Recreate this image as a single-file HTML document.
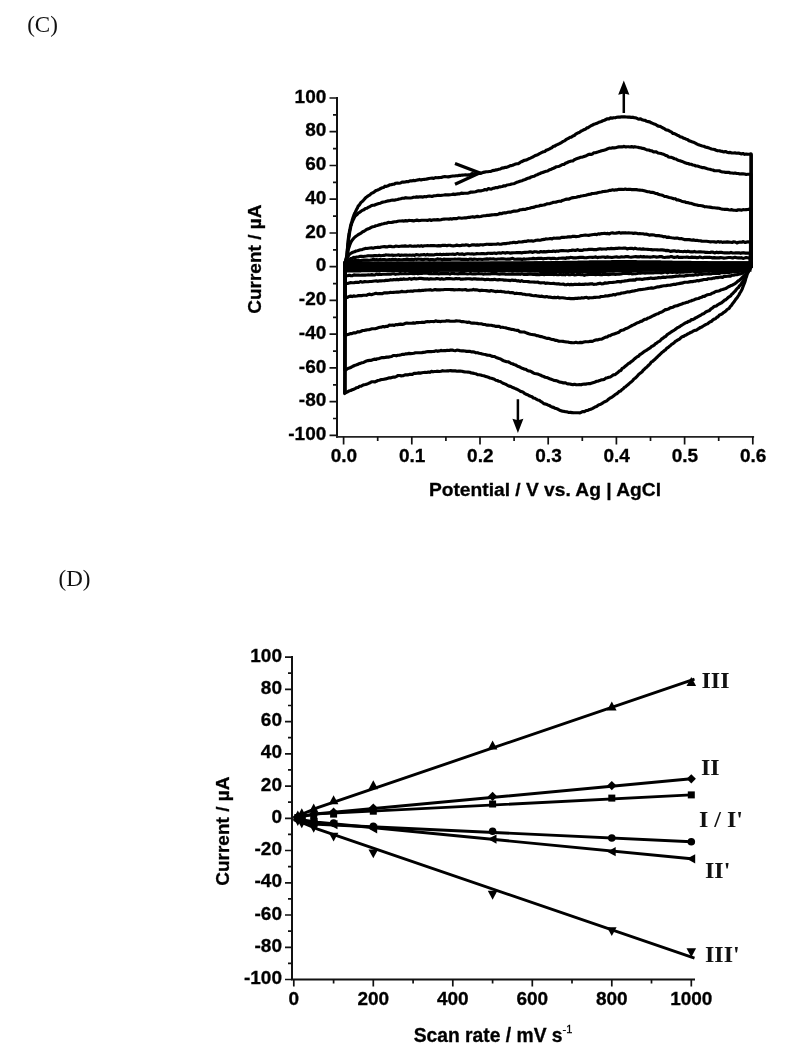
<!DOCTYPE html>
<html lang="en"><head><meta charset="utf-8"><title>Figure C, D</title>
<style>html,body{margin:0;padding:0;background:#fff}svg{display:block}</style></head>
<body>
<svg width="798" height="1061" viewBox="0 0 798 1061">
<rect width="100%" height="100%" fill="#fff"/>
<g font-family="'Liberation Serif', 'Times New Roman', serif" font-size="23" fill="#111">
<text x="27.2" y="32.3">(C)</text>
<text x="58.5" y="586.2">(D)</text>
</g>
<g stroke="#111" stroke-width="2" fill="none" stroke-linecap="butt">
<path d="M337.0 97.0 V437.7"/><path d="M336.0 436.8 H754.1" stroke="#222" stroke-width="1.8"/>
<path d="M329.5 435.4 H337.0 M333.0 418.5 H337.0 M329.5 401.7 H337.0 M333.0 384.8 H337.0 M329.5 367.9 H337.0 M333.0 351.1 H337.0 M329.5 334.2 H337.0 M333.0 317.3 H337.0 M329.5 300.4 H337.0 M333.0 283.6 H337.0 M329.5 266.7 H337.0 M333.0 249.8 H337.0 M329.5 233.0 H337.0 M333.0 216.1 H337.0 M329.5 199.2 H337.0 M333.0 182.3 H337.0 M329.5 165.5 H337.0 M333.0 148.6 H337.0 M329.5 131.7 H337.0 M333.0 114.9 H337.0 M329.5 98.0 H337.0 M343.6 436.8 V444.6 M377.7 436.8 V441.0 M411.8 436.8 V444.6 M445.9 436.8 V441.0 M480.0 436.8 V444.6 M514.1 436.8 V441.0 M548.2 436.8 V444.6 M582.3 436.8 V441.0 M616.4 436.8 V444.6 M650.5 436.8 V441.0 M684.6 436.8 V444.6 M718.7 436.8 V441.0 M752.8 436.8 V444.6 " stroke-width="1.7"/>
</g>
<g font-family="'Liberation Sans', Arial, sans-serif" font-weight="bold" font-size="19" fill="#000" stroke="#000" stroke-width="0.3">
<text x="326.3" y="440.0" text-anchor="end">-100</text>
<text x="326.3" y="406.3" text-anchor="end">-80</text>
<text x="326.3" y="372.5" text-anchor="end">-60</text>
<text x="326.3" y="338.8" text-anchor="end">-40</text>
<text x="326.3" y="305.0" text-anchor="end">-20</text>
<text x="326.3" y="271.3" text-anchor="end">0</text>
<text x="326.3" y="237.6" text-anchor="end">20</text>
<text x="326.3" y="203.8" text-anchor="end">40</text>
<text x="326.3" y="170.1" text-anchor="end">60</text>
<text x="326.3" y="136.3" text-anchor="end">80</text>
<text x="326.3" y="102.6" text-anchor="end">100</text>
<text x="343.9" y="462" text-anchor="middle">0.0</text>
<text x="412.1" y="462" text-anchor="middle">0.1</text>
<text x="480.3" y="462" text-anchor="middle">0.2</text>
<text x="548.5" y="462" text-anchor="middle">0.3</text>
<text x="616.7" y="462" text-anchor="middle">0.4</text>
<text x="684.9" y="462" text-anchor="middle">0.5</text>
<text x="753.1" y="462" text-anchor="middle">0.6</text>
<text x="545" y="495.6" text-anchor="middle" font-size="19.2">Potential / V vs. Ag | AgCl</text>
<text transform="translate(261,259.2) rotate(-90)" text-anchor="middle">Current / µA</text>
</g>
<g stroke="#000" stroke-width="3.15" fill="none" stroke-linejoin="round">
<path d="M344.6 393.5 L345.2 262.4 L345.7 259.9 L346.1 259.0 L346.4 257.2 L346.7 255.7 L346.9 254.2 L347.1 252.2 L347.2 251.0 L347.4 249.3 L347.5 248.6 L347.6 246.3 L347.8 244.6 L347.9 243.0 L348.1 241.3 L348.2 239.6 L348.4 238.2 L348.6 236.8 L348.8 235.0 L349.1 233.7 L349.4 231.9 L349.7 230.4 L350.0 229.1 L350.3 227.3 L350.7 225.5 L351.1 224.0 L351.5 222.7 L352.0 221.4 L352.4 219.4 L352.9 217.9 L353.4 216.7 L354.0 214.8 L354.6 213.4 L355.3 212.2 L356.0 210.6 L356.7 209.1 L357.5 207.9 L358.3 205.8 L359.2 205.3 L360.2 203.6 L361.2 202.2 L362.3 201.4 L363.4 200.3 L364.6 198.9 L365.8 197.6 L367.0 196.8 L368.2 195.8 L369.4 195.2 L370.7 194.1 L372.0 193.1 L373.4 192.5 L374.8 191.4 L376.3 190.4 L377.7 190.0 L379.1 189.3 L380.6 188.5 L382.0 187.8 L383.5 187.4 L385.0 186.2 L386.5 186.4 L388.1 185.8 L389.6 184.9 L391.2 184.8 L392.7 184.2 L394.2 184.2 L395.8 183.2 L397.4 183.1 L398.9 183.2 L400.5 183.0 L402.1 182.0 L403.7 182.1 L405.3 182.0 L406.8 181.5 L408.4 181.7 L410.0 180.9 L411.6 180.9 L413.2 180.4 L414.7 180.7 L416.3 180.2 L417.9 179.9 L419.5 179.4 L421.1 179.9 L422.7 179.5 L424.3 179.4 L425.8 179.3 L427.4 178.9 L429.0 178.5 L430.6 178.3 L432.2 178.1 L433.8 178.4 L435.4 177.6 L437.0 177.7 L438.6 177.6 L440.2 177.5 L441.8 177.4 L443.3 176.8 L444.9 176.6 L446.5 176.8 L448.1 176.9 L449.7 176.6 L451.3 176.3 L452.9 176.0 L454.5 176.0 L456.1 175.7 L457.7 175.8 L459.3 175.3 L460.8 175.3 L462.4 175.1 L464.0 175.0 L465.6 174.8 L467.2 175.1 L468.8 174.7 L470.4 174.6 L472.0 173.6 L473.6 173.8 L475.2 173.6 L476.8 173.7 L478.4 172.9 L479.9 173.4 L481.5 173.1 L483.1 172.4 L484.7 172.1 L486.2 171.8 L487.8 171.7 L489.4 171.5 L490.9 171.4 L492.5 170.6 L494.0 170.4 L495.6 169.9 L497.1 169.9 L498.7 169.3 L500.3 169.0 L501.8 168.1 L503.4 167.9 L504.9 167.4 L506.5 167.4 L508.0 166.8 L509.5 166.1 L511.0 165.6 L512.6 165.3 L514.1 164.6 L515.6 164.0 L517.1 163.7 L518.6 163.6 L520.1 162.4 L521.5 161.7 L523.0 161.0 L524.5 160.3 L526.0 160.1 L527.5 159.5 L528.9 158.7 L530.4 158.1 L531.9 157.4 L533.3 156.8 L534.8 155.8 L536.2 155.3 L537.7 154.8 L539.1 153.9 L540.5 153.2 L542.0 152.4 L543.4 151.8 L544.8 151.4 L546.2 150.3 L547.7 149.7 L549.1 149.1 L550.5 148.3 L551.9 147.8 L553.3 146.2 L554.7 146.1 L556.1 145.1 L557.6 144.5 L559.0 143.9 L560.4 143.1 L561.8 142.3 L563.2 141.4 L564.5 140.9 L565.9 139.7 L567.3 138.9 L568.7 138.3 L570.1 137.3 L571.5 137.1 L572.9 136.0 L574.3 135.5 L575.7 134.2 L577.1 133.4 L578.5 132.7 L579.9 132.1 L581.3 131.0 L582.7 130.4 L584.1 129.6 L585.5 129.2 L586.9 127.9 L588.3 127.6 L589.8 126.5 L591.2 125.7 L592.6 125.0 L594.1 124.2 L595.5 123.8 L597.0 123.3 L598.4 122.5 L599.9 121.9 L601.4 121.5 L602.9 120.7 L604.4 120.2 L605.9 119.5 L607.4 118.8 L609.0 118.8 L610.5 117.9 L612.1 118.1 L613.7 117.7 L615.2 117.8 L616.8 117.3 L618.4 117.0 L620.0 117.1 L621.6 116.8 L623.2 116.9 L624.8 116.9 L626.4 117.0 L628.0 117.1 L629.6 117.1 L631.2 117.4 L632.8 117.2 L634.4 117.8 L635.9 117.9 L637.5 118.7 L639.1 119.1 L640.6 118.8 L642.2 119.8 L643.7 120.2 L645.2 120.4 L646.7 121.3 L648.2 121.6 L649.7 121.9 L651.2 122.8 L652.7 123.4 L654.2 124.1 L655.7 124.5 L657.1 125.5 L658.6 126.2 L660.1 126.4 L661.5 127.2 L663.0 128.0 L664.4 128.6 L665.8 129.8 L667.3 130.1 L668.7 130.6 L670.1 131.4 L671.6 132.2 L673.0 133.5 L674.4 133.6 L675.9 134.4 L677.3 135.2 L678.8 135.7 L680.2 136.9 L681.7 137.0 L683.1 137.9 L684.6 138.4 L686.1 139.2 L687.5 139.5 L689.0 140.8 L690.4 141.1 L691.9 141.8 L693.4 142.2 L694.8 142.9 L696.3 143.7 L697.8 144.4 L699.3 144.9 L700.8 145.6 L702.3 146.0 L703.8 146.3 L705.3 147.0 L706.9 147.4 L708.4 147.8 L709.9 148.4 L711.5 149.0 L713.0 149.2 L714.6 149.5 L716.1 150.2 L717.7 150.8 L719.2 150.7 L720.8 151.1 L722.4 151.4 L723.9 151.9 L725.5 151.5 L727.1 152.2 L728.7 152.6 L730.2 152.4 L731.8 153.0 L733.4 153.0 L735.0 152.9 L736.6 153.2 L738.2 153.0 L739.8 153.4 L741.4 154.0 L743.0 153.5 L744.6 154.3 L746.2 154.0 L747.8 154.3 L749.4 154.2 L751.0 153.8 L751.3 154.2 L751.3 267.0 L750.4 268.1 L749.6 269.4 L748.8 271.2 L748.1 272.4 L747.4 273.6 L746.9 275.3 L746.3 277.2 L745.8 278.4 L745.4 280.3 L744.9 281.9 L744.4 283.2 L743.9 284.4 L743.3 285.9 L742.7 287.6 L742.1 289.3 L741.4 290.5 L740.6 292.0 L739.8 293.2 L739.0 294.8 L738.2 296.0 L737.3 297.4 L736.4 298.5 L735.4 299.8 L734.5 301.3 L733.5 302.5 L732.5 303.7 L731.5 305.3 L730.4 306.3 L729.4 308.1 L728.3 308.8 L727.1 309.5 L725.9 310.9 L724.7 311.8 L723.4 312.6 L722.1 313.9 L720.8 314.5 L719.5 314.9 L718.2 316.7 L716.8 317.3 L715.5 318.7 L714.2 319.1 L712.9 319.9 L711.5 321.4 L710.2 321.7 L708.8 322.8 L707.4 323.9 L706.1 324.4 L704.7 325.2 L703.3 326.0 L701.9 326.9 L700.5 327.4 L699.1 328.4 L697.7 329.2 L696.2 330.3 L694.8 330.4 L693.3 331.0 L691.9 332.0 L690.5 332.5 L689.0 333.3 L687.6 334.0 L686.2 335.0 L684.8 335.4 L683.5 336.4 L682.1 336.7 L680.7 337.9 L679.4 339.3 L678.1 339.7 L676.8 340.6 L675.4 341.4 L674.1 342.8 L672.9 343.6 L671.6 344.3 L670.3 345.7 L669.1 346.6 L667.8 347.7 L666.6 348.4 L665.4 350.0 L664.2 350.7 L663.0 351.7 L661.8 352.6 L660.6 353.8 L659.4 355.1 L658.2 356.0 L657.1 357.3 L655.9 358.3 L654.7 359.6 L653.5 360.5 L652.4 361.5 L651.2 362.2 L650.1 363.8 L648.9 365.0 L647.8 366.0 L646.7 367.2 L645.5 368.1 L644.4 369.2 L643.2 370.2 L642.1 371.8 L640.9 372.7 L639.7 373.6 L638.6 374.5 L637.4 375.9 L636.2 377.3 L635.1 378.2 L633.9 379.0 L632.7 380.6 L631.5 381.7 L630.3 382.6 L629.1 383.6 L627.9 384.8 L626.7 385.7 L625.5 386.8 L624.3 387.4 L623.0 389.0 L621.8 389.7 L620.5 391.1 L619.3 391.2 L618.0 392.7 L616.7 393.8 L615.4 394.4 L614.1 395.5 L612.8 396.5 L611.5 397.4 L610.2 398.0 L608.8 399.0 L607.5 400.2 L606.2 401.1 L604.8 401.7 L603.4 402.5 L602.1 403.4 L600.7 404.3 L599.3 404.7 L597.9 405.4 L596.5 406.5 L595.0 407.0 L593.6 407.8 L592.2 408.6 L590.7 409.3 L589.2 409.6 L587.7 410.5 L586.2 410.5 L584.7 411.6 L583.1 411.6 L581.6 412.1 L580.0 412.9 L578.4 412.8 L576.8 412.7 L575.3 412.7 L573.6 412.8 L572.0 412.6 L570.4 412.4 L568.8 412.5 L567.2 411.9 L565.7 411.8 L564.2 411.4 L562.6 411.3 L561.1 410.7 L559.6 410.2 L558.1 409.3 L556.6 408.6 L555.1 408.3 L553.6 407.4 L552.2 407.1 L550.7 406.4 L549.2 405.4 L547.8 404.9 L546.3 404.2 L544.9 403.9 L543.5 403.4 L542.0 402.1 L540.6 401.4 L539.2 400.2 L537.7 400.0 L536.3 399.2 L534.9 398.3 L533.4 398.0 L532.0 396.8 L530.6 396.3 L529.1 395.7 L527.7 394.7 L526.3 394.4 L524.9 393.7 L523.4 392.4 L522.0 391.7 L520.6 391.4 L519.2 390.5 L517.7 389.6 L516.3 389.0 L514.9 388.4 L513.4 387.7 L512.0 387.2 L510.5 386.4 L509.1 386.1 L507.6 385.3 L506.2 384.5 L504.7 383.9 L503.2 383.3 L501.8 382.5 L500.3 381.5 L498.8 381.3 L497.3 380.5 L495.8 380.2 L494.4 379.3 L492.9 378.8 L491.4 378.3 L489.9 378.0 L488.3 377.2 L486.8 376.7 L485.3 376.4 L483.8 375.8 L482.2 375.5 L480.7 375.0 L479.1 374.7 L477.5 374.6 L476.0 373.8 L474.4 373.5 L472.8 373.1 L471.3 373.0 L469.7 372.3 L468.1 372.1 L466.5 372.0 L465.0 371.9 L463.4 371.6 L461.8 371.2 L460.2 371.0 L458.6 371.1 L457.0 371.2 L455.4 370.9 L453.8 370.8 L452.2 370.9 L450.6 370.6 L449.0 370.8 L447.4 370.8 L445.8 371.0 L444.2 371.0 L442.6 370.7 L441.0 371.3 L439.4 371.5 L437.8 371.2 L436.2 371.4 L434.6 371.5 L433.0 371.8 L431.4 371.4 L429.8 372.3 L428.3 372.0 L426.7 372.5 L425.1 372.4 L423.5 372.5 L421.9 372.7 L420.3 373.1 L418.7 372.9 L417.1 373.2 L415.5 373.4 L414.0 373.4 L412.4 374.3 L410.8 374.3 L409.2 374.4 L407.6 374.9 L406.0 374.7 L404.5 375.1 L402.9 375.8 L401.3 375.9 L399.7 375.5 L398.1 375.5 L396.6 376.3 L395.0 377.1 L393.4 377.0 L391.9 377.4 L390.3 377.9 L388.7 377.9 L387.1 378.4 L385.6 378.9 L384.0 379.2 L382.5 379.5 L380.9 379.6 L379.4 380.3 L377.8 380.5 L376.3 381.3 L374.7 382.0 L373.2 381.7 L371.6 381.8 L370.1 382.7 L368.6 383.4 L367.1 384.0 L365.6 384.5 L364.1 384.7 L362.6 385.2 L361.1 386.2 L359.6 386.3 L358.1 387.4 L356.6 387.7 L355.1 388.6 L353.7 389.2 L352.2 389.8 L350.7 390.5 L349.3 390.8 L347.8 391.7 L346.4 392.3 L344.9 393.1 L344.6 393.5Z"/>
<path d="M344.7 369.8 L345.2 262.9 L345.7 261.3 L346.1 259.8 L346.4 258.3 L346.7 257.0 L346.9 255.0 L347.1 253.9 L347.2 252.1 L347.4 250.4 L347.5 248.6 L347.7 247.3 L347.8 245.8 L348.0 243.7 L348.2 242.7 L348.4 241.2 L348.6 239.4 L348.8 237.8 L349.1 236.6 L349.3 234.8 L349.6 232.7 L349.8 231.3 L350.1 229.7 L350.5 228.2 L350.8 226.1 L351.2 225.3 L351.7 223.4 L352.3 222.0 L352.9 220.4 L353.6 219.1 L354.3 217.5 L355.1 216.2 L356.1 215.3 L357.1 214.5 L358.3 213.0 L359.6 212.4 L361.0 211.2 L362.5 210.2 L363.9 209.8 L365.4 208.5 L366.9 208.2 L368.3 207.2 L369.7 206.8 L371.2 205.8 L372.7 205.3 L374.2 205.2 L375.8 204.5 L377.3 204.0 L378.9 203.5 L380.4 203.2 L381.9 202.4 L383.5 202.0 L385.0 201.8 L386.6 201.3 L388.2 200.9 L389.7 200.7 L391.3 200.3 L392.8 200.0 L394.4 200.2 L396.0 199.7 L397.6 199.5 L399.2 199.0 L400.7 198.7 L402.3 198.2 L403.9 198.3 L405.5 197.7 L407.1 197.9 L408.7 198.0 L410.3 198.0 L411.9 197.7 L413.5 197.2 L415.1 197.3 L416.7 196.9 L418.2 197.1 L419.8 196.8 L421.4 196.9 L423.0 197.1 L424.6 196.6 L426.2 196.8 L427.8 196.3 L429.4 196.0 L431.0 196.3 L432.6 196.3 L434.2 195.7 L435.8 195.7 L437.4 195.3 L439.0 195.4 L440.6 195.5 L442.2 195.2 L443.8 195.0 L445.4 194.7 L447.0 194.9 L448.6 194.9 L450.2 194.7 L451.8 194.5 L453.4 194.1 L455.0 194.6 L456.5 194.1 L458.1 193.9 L459.7 193.9 L461.3 193.1 L462.9 193.4 L464.5 193.2 L466.1 193.2 L467.7 193.2 L469.3 192.8 L470.8 192.0 L472.4 192.1 L474.0 192.0 L475.6 191.7 L477.1 191.1 L478.7 190.7 L480.3 190.9 L481.9 190.6 L483.4 190.2 L485.0 189.5 L486.6 190.0 L488.2 188.6 L489.7 188.9 L491.3 189.1 L492.9 188.3 L494.5 188.1 L496.0 187.5 L497.6 187.7 L499.2 186.8 L500.7 186.8 L502.3 186.5 L503.9 185.8 L505.4 185.9 L507.0 185.0 L508.5 184.8 L510.1 184.5 L511.6 184.0 L513.1 183.8 L514.6 183.4 L516.2 182.6 L517.7 182.1 L519.2 181.5 L520.7 181.0 L522.2 180.7 L523.7 179.9 L525.2 179.5 L526.7 178.8 L528.2 178.1 L529.7 177.9 L531.2 176.9 L532.7 176.5 L534.2 176.3 L535.7 175.2 L537.2 174.8 L538.7 173.9 L540.1 173.5 L541.6 172.7 L543.1 172.4 L544.6 171.7 L546.1 171.3 L547.6 171.0 L549.0 170.1 L550.5 169.6 L552.0 168.8 L553.5 168.2 L555.0 167.5 L556.5 166.7 L558.0 166.5 L559.4 166.2 L560.9 165.4 L562.4 164.5 L563.9 164.4 L565.4 163.3 L566.8 162.7 L568.3 162.0 L569.8 161.4 L571.3 161.0 L572.8 160.9 L574.3 159.8 L575.8 159.1 L577.3 158.6 L578.8 158.1 L580.3 157.3 L581.8 157.2 L583.3 156.8 L584.8 156.2 L586.3 155.7 L587.9 154.8 L589.4 154.2 L590.9 154.4 L592.4 153.9 L593.9 152.8 L595.5 152.7 L597.0 152.2 L598.5 151.8 L600.1 151.3 L601.6 150.7 L603.1 150.4 L604.7 150.0 L606.2 149.5 L607.8 148.7 L609.3 148.1 L610.9 148.2 L612.5 147.7 L614.0 147.9 L615.6 147.7 L617.2 147.3 L618.8 146.9 L620.4 146.8 L622.0 146.9 L623.6 146.4 L625.2 146.8 L626.8 146.8 L628.4 146.7 L630.0 147.0 L631.6 146.6 L633.2 147.1 L634.8 146.7 L636.3 147.0 L637.9 147.2 L639.5 147.8 L641.1 147.9 L642.6 148.4 L644.2 148.6 L645.7 149.4 L647.3 150.0 L648.8 150.0 L650.4 150.7 L651.9 150.9 L653.5 151.8 L655.0 151.8 L656.5 151.9 L658.0 153.0 L659.6 153.2 L661.1 153.5 L662.6 154.1 L664.1 154.5 L665.6 155.4 L667.1 155.7 L668.6 156.9 L670.1 157.3 L671.5 157.4 L673.0 158.0 L674.5 158.7 L676.0 159.0 L677.5 160.0 L679.0 160.5 L680.6 160.9 L682.1 161.4 L683.6 162.1 L685.1 162.8 L686.6 163.4 L688.2 163.5 L689.7 164.2 L691.2 164.3 L692.8 165.0 L694.3 165.2 L695.8 166.0 L697.4 166.0 L698.9 166.5 L700.5 167.1 L702.0 167.6 L703.6 167.6 L705.1 168.1 L706.7 168.6 L708.2 169.0 L709.8 169.2 L711.4 169.7 L712.9 170.0 L714.5 170.7 L716.1 170.8 L717.6 170.7 L719.2 170.8 L720.8 171.5 L722.4 172.0 L724.0 172.0 L725.5 172.4 L727.1 172.3 L728.7 172.3 L730.3 173.0 L731.9 173.0 L733.5 173.3 L735.1 173.0 L736.7 173.5 L738.3 173.5 L739.9 174.0 L741.5 173.8 L743.0 173.9 L744.6 174.0 L746.2 174.5 L747.8 174.3 L749.4 174.2 L751.0 174.2 L751.0 266.8 L750.1 268.6 L749.2 269.2 L748.3 270.8 L747.5 272.5 L746.7 274.0 L746.0 275.2 L745.3 276.8 L744.6 278.3 L743.8 279.7 L743.1 280.9 L742.2 282.6 L741.3 283.6 L740.4 285.2 L739.4 285.9 L738.4 287.6 L737.4 288.3 L736.3 289.5 L735.2 291.1 L734.1 292.0 L733.0 293.4 L731.8 294.2 L730.7 295.9 L729.5 296.6 L728.3 297.3 L727.0 298.6 L725.7 299.7 L724.4 300.3 L723.1 301.5 L721.8 302.7 L720.4 303.3 L719.1 304.0 L717.7 304.8 L716.3 305.9 L715.0 306.3 L713.7 306.8 L712.3 308.2 L710.9 308.9 L709.6 310.4 L708.2 310.9 L706.8 311.5 L705.5 312.2 L704.1 313.4 L702.7 313.9 L701.3 314.8 L699.9 315.6 L698.5 316.4 L697.1 317.2 L695.6 317.9 L694.2 318.9 L692.8 319.6 L691.3 319.6 L689.9 321.2 L688.4 321.4 L687.0 322.4 L685.6 322.7 L684.2 323.7 L682.9 324.5 L681.5 325.3 L680.1 326.3 L678.8 327.1 L677.4 327.7 L676.1 328.7 L674.8 329.8 L673.4 330.7 L672.1 331.4 L670.8 332.3 L669.5 333.2 L668.2 334.0 L666.9 334.9 L665.6 336.5 L664.3 337.0 L663.1 338.1 L661.8 338.9 L660.5 340.3 L659.3 341.4 L658.0 341.9 L656.7 343.1 L655.4 343.7 L654.1 345.2 L652.8 346.0 L651.5 346.5 L650.2 347.9 L648.9 348.6 L647.6 349.5 L646.3 350.4 L644.9 351.1 L643.6 352.0 L642.3 353.2 L641.0 354.0 L639.7 354.7 L638.5 356.3 L637.2 356.8 L635.9 357.7 L634.7 358.7 L633.4 360.0 L632.2 361.0 L630.9 361.9 L629.7 363.0 L628.4 363.5 L627.2 364.7 L625.9 365.7 L624.6 366.8 L623.4 367.9 L622.1 368.4 L620.9 370.6 L619.6 370.7 L618.4 372.0 L617.1 373.1 L615.8 374.1 L614.5 374.8 L613.2 374.9 L611.8 376.0 L610.3 377.0 L608.9 377.3 L607.4 377.8 L605.8 378.1 L604.3 379.4 L602.8 379.7 L601.2 379.9 L599.7 380.6 L598.2 381.1 L596.7 381.3 L595.1 382.0 L593.6 382.6 L592.0 383.1 L590.5 383.6 L588.9 383.6 L587.3 383.7 L585.7 384.1 L584.2 384.1 L582.6 384.2 L581.0 384.8 L579.4 384.6 L577.8 384.7 L576.2 384.8 L574.6 384.3 L573.0 384.6 L571.4 384.4 L569.8 384.0 L568.2 383.9 L566.6 383.4 L565.1 382.8 L563.5 382.9 L562.0 382.4 L560.4 382.3 L558.9 381.7 L557.3 381.0 L555.8 380.6 L554.3 380.5 L552.8 379.9 L551.2 379.3 L549.7 378.8 L548.2 378.1 L546.7 377.6 L545.2 377.2 L543.7 376.5 L542.2 376.1 L540.7 375.2 L539.2 374.6 L537.7 374.0 L536.2 373.7 L534.7 373.5 L533.2 372.9 L531.7 371.9 L530.2 371.1 L528.7 371.0 L527.3 370.4 L525.8 369.3 L524.3 369.2 L522.8 368.4 L521.4 368.0 L519.9 367.1 L518.4 366.6 L517.0 365.9 L515.5 364.9 L514.0 364.5 L512.5 363.8 L511.1 363.5 L509.6 362.5 L508.1 361.8 L506.6 361.7 L505.1 361.2 L503.6 360.7 L502.1 360.0 L500.6 358.9 L499.1 358.5 L497.6 358.0 L496.1 357.5 L494.6 356.5 L493.1 356.5 L491.5 356.1 L490.0 355.4 L488.5 355.2 L486.9 355.1 L485.4 354.5 L483.8 354.3 L482.3 354.0 L480.7 353.5 L479.1 353.2 L477.6 352.7 L476.0 352.8 L474.4 352.1 L472.8 351.8 L471.2 351.9 L469.6 351.3 L468.0 351.4 L466.5 351.4 L464.9 351.0 L463.3 350.9 L461.7 350.9 L460.1 350.8 L458.5 350.2 L456.9 350.1 L455.3 350.7 L453.7 350.5 L452.1 350.0 L450.5 350.1 L448.9 350.5 L447.3 350.3 L445.7 350.6 L444.1 350.6 L442.5 350.7 L440.9 350.4 L439.3 350.9 L437.7 351.3 L436.1 350.8 L434.5 351.4 L432.9 351.5 L431.3 351.6 L429.7 351.6 L428.1 351.5 L426.5 351.7 L424.9 352.2 L423.3 352.4 L421.8 352.6 L420.2 352.7 L418.6 352.8 L417.0 352.7 L415.4 352.7 L413.8 353.2 L412.2 353.5 L410.6 353.6 L409.0 353.4 L407.4 353.8 L405.9 353.8 L404.3 354.4 L402.7 354.3 L401.1 354.8 L399.5 355.1 L397.9 355.3 L396.4 355.8 L394.8 355.5 L393.2 355.5 L391.6 356.5 L390.0 356.8 L388.5 357.1 L386.9 357.1 L385.3 357.4 L383.7 357.6 L382.1 357.6 L380.6 358.1 L379.0 358.6 L377.4 358.7 L375.9 359.5 L374.3 359.1 L372.7 359.7 L371.2 360.4 L369.6 360.4 L368.0 360.6 L366.5 361.0 L365.0 361.6 L363.5 362.5 L361.9 362.8 L360.4 363.4 L359.0 363.7 L357.5 364.6 L356.0 365.1 L354.5 365.5 L353.0 366.2 L351.6 367.0 L350.1 367.8 L348.6 368.2 L347.2 369.0 L345.7 370.0 L344.7 369.8Z"/>
<path d="M344.7 335.5 L345.2 263.7 L345.5 262.7 L345.8 261.0 L346.2 259.3 L346.6 257.8 L346.9 256.1 L347.3 254.7 L347.7 252.9 L348.0 251.5 L348.4 249.4 L348.8 247.9 L349.3 246.5 L349.8 244.9 L350.3 243.7 L350.9 242.2 L351.6 240.9 L352.5 239.8 L353.5 238.5 L354.7 237.2 L356.0 236.2 L357.4 235.3 L358.7 234.4 L360.1 233.6 L361.4 232.8 L362.7 231.8 L364.1 231.2 L365.5 230.3 L366.9 229.2 L368.3 228.9 L369.8 228.2 L371.3 227.3 L372.8 226.8 L374.3 226.5 L375.8 225.8 L377.4 225.5 L378.9 224.9 L380.4 224.6 L382.0 224.0 L383.5 223.8 L385.1 223.3 L386.7 223.2 L388.3 222.3 L389.8 222.5 L391.4 222.5 L393.0 222.1 L394.6 221.8 L396.2 221.7 L397.8 221.2 L399.4 221.0 L401.0 221.0 L402.5 220.9 L404.1 221.1 L405.7 220.6 L407.3 221.0 L408.9 220.4 L410.5 220.5 L412.1 220.6 L413.7 220.9 L415.3 220.5 L416.9 220.1 L418.5 220.6 L420.1 220.5 L421.7 220.2 L423.3 220.2 L424.9 220.2 L426.5 220.3 L428.1 220.3 L429.7 219.8 L431.3 220.5 L432.9 219.9 L434.5 219.7 L436.1 219.9 L437.7 219.6 L439.3 220.0 L440.9 219.7 L442.5 219.2 L444.1 219.1 L445.7 219.0 L447.3 219.0 L448.9 219.1 L450.5 218.7 L452.1 219.1 L453.7 218.6 L455.3 218.5 L456.9 218.6 L458.5 217.9 L460.1 218.0 L461.7 218.2 L463.3 218.0 L464.9 217.8 L466.5 217.8 L468.0 217.4 L469.6 217.4 L471.2 217.0 L472.8 216.7 L474.4 217.2 L476.0 216.6 L477.6 216.4 L479.2 216.7 L480.8 216.5 L482.4 216.0 L484.0 215.8 L485.6 215.7 L487.1 215.3 L488.7 215.4 L490.3 215.1 L491.9 214.9 L493.5 214.8 L495.1 214.6 L496.7 214.6 L498.2 214.3 L499.8 213.3 L501.4 213.7 L503.0 213.0 L504.6 212.7 L506.1 212.9 L507.7 212.3 L509.3 212.1 L510.9 212.1 L512.4 211.5 L514.0 211.1 L515.6 211.1 L517.1 211.0 L518.7 210.5 L520.3 209.7 L521.8 209.6 L523.4 209.3 L525.0 209.5 L526.5 208.9 L528.1 208.5 L529.7 208.3 L531.2 207.6 L532.8 207.4 L534.4 207.1 L535.9 206.4 L537.5 206.2 L539.0 206.0 L540.6 205.3 L542.1 205.3 L543.7 205.0 L545.3 204.6 L546.8 203.9 L548.4 203.7 L549.9 203.6 L551.5 203.1 L553.0 202.4 L554.6 202.2 L556.2 202.1 L557.7 201.5 L559.3 201.2 L560.8 201.3 L562.4 200.4 L563.9 200.0 L565.5 199.4 L567.1 199.1 L568.6 199.2 L570.2 198.5 L571.7 197.9 L573.3 197.6 L574.9 197.5 L576.4 197.3 L578.0 196.6 L579.5 196.6 L581.1 196.0 L582.7 195.8 L584.2 195.5 L585.8 195.2 L587.4 194.7 L588.9 194.4 L590.5 194.2 L592.1 193.5 L593.6 193.5 L595.2 193.3 L596.8 193.1 L598.3 192.5 L599.9 192.2 L601.5 192.0 L603.1 191.5 L604.6 191.4 L606.2 191.2 L607.8 191.0 L609.4 190.4 L611.0 190.4 L612.6 189.8 L614.2 190.2 L615.7 189.8 L617.3 189.8 L618.9 189.3 L620.5 189.4 L622.1 189.4 L623.7 189.5 L625.3 189.0 L626.9 189.5 L628.5 189.3 L630.1 189.3 L631.7 189.6 L633.3 189.5 L634.9 189.6 L636.5 189.6 L638.1 190.0 L639.7 190.1 L641.3 190.3 L642.9 190.4 L644.4 190.8 L646.0 191.2 L647.6 191.7 L649.1 191.7 L650.7 192.4 L652.3 192.4 L653.8 192.6 L655.4 193.4 L656.9 193.5 L658.4 194.2 L660.0 194.8 L661.5 195.0 L663.0 195.5 L664.6 196.5 L666.1 196.5 L667.7 197.0 L669.2 197.5 L670.7 197.8 L672.3 198.2 L673.8 198.8 L675.3 198.7 L676.9 200.0 L678.4 199.9 L679.9 200.4 L681.5 201.2 L683.0 201.6 L684.5 201.7 L686.1 202.5 L687.6 202.6 L689.2 203.1 L690.7 203.3 L692.3 203.8 L693.8 204.4 L695.4 204.7 L697.0 205.0 L698.5 205.5 L700.1 205.5 L701.7 205.7 L703.3 206.1 L704.8 206.8 L706.4 206.7 L708.0 207.0 L709.6 207.1 L711.2 207.4 L712.7 207.7 L714.3 207.8 L715.9 208.0 L717.5 208.1 L719.1 208.3 L720.7 208.8 L722.3 209.1 L723.9 209.3 L725.5 209.3 L727.0 209.3 L728.6 209.8 L730.2 210.0 L731.8 209.6 L733.4 210.2 L735.0 210.2 L736.6 210.5 L738.2 209.8 L739.8 209.8 L741.4 210.2 L743.0 209.6 L744.6 209.7 L746.2 209.6 L747.8 209.5 L749.4 209.1 L750.8 209.3 L750.8 267.2 L749.9 268.4 L749.0 269.7 L748.0 270.9 L747.1 272.5 L746.1 273.6 L745.1 275.0 L744.0 275.6 L742.9 277.2 L741.8 277.9 L740.6 279.3 L739.4 280.3 L738.1 281.0 L736.8 282.2 L735.4 283.3 L734.1 284.1 L732.7 284.9 L731.3 285.4 L729.9 286.2 L728.5 286.8 L727.1 287.7 L725.6 288.6 L724.1 289.0 L722.6 289.5 L721.1 289.8 L719.6 290.7 L718.1 291.1 L716.5 291.3 L715.0 291.9 L713.5 292.8 L712.0 293.2 L710.5 294.3 L709.0 294.5 L707.5 294.8 L706.0 295.4 L704.5 296.4 L703.0 296.4 L701.5 297.3 L700.0 297.7 L698.5 298.5 L696.9 298.8 L695.4 299.1 L693.9 299.9 L692.4 300.3 L690.9 301.0 L689.4 301.3 L687.9 302.3 L686.4 302.4 L684.9 303.0 L683.4 303.3 L681.8 304.0 L680.3 304.5 L678.8 305.0 L677.3 305.7 L675.8 305.9 L674.3 306.3 L672.7 307.3 L671.2 307.6 L669.8 308.1 L668.3 309.1 L666.8 309.6 L665.4 309.5 L663.9 310.7 L662.4 311.6 L661.0 312.3 L659.5 312.7 L658.1 313.8 L656.6 314.0 L655.2 314.8 L653.7 315.5 L652.3 316.1 L650.8 317.0 L649.4 317.7 L647.9 318.1 L646.4 319.1 L645.0 319.3 L643.5 320.0 L642.1 321.1 L640.6 321.4 L639.2 322.3 L637.7 322.7 L636.3 323.4 L634.9 324.2 L633.4 324.9 L632.0 325.5 L630.5 326.3 L629.1 327.2 L627.7 328.0 L626.2 328.4 L624.8 329.2 L623.3 330.0 L621.9 330.2 L620.4 330.8 L619.0 332.2 L617.5 332.8 L616.1 333.2 L614.6 333.9 L613.1 334.2 L611.6 334.7 L610.2 335.6 L608.7 335.8 L607.2 336.9 L605.7 337.1 L604.1 337.9 L602.6 338.7 L601.1 339.2 L599.6 339.2 L598.0 339.9 L596.5 339.8 L594.9 340.3 L593.3 340.9 L591.8 341.4 L590.2 341.3 L588.6 341.7 L587.0 341.8 L585.4 341.7 L583.9 342.1 L582.3 342.6 L580.7 342.4 L579.1 342.6 L577.5 342.7 L575.9 342.3 L574.3 342.7 L572.7 342.7 L571.1 342.6 L569.5 342.5 L567.9 342.0 L566.3 341.9 L564.7 341.7 L563.1 341.4 L561.5 341.2 L559.9 341.3 L558.4 341.1 L556.8 340.3 L555.2 340.3 L553.7 339.6 L552.1 339.5 L550.5 339.0 L549.0 338.4 L547.4 338.4 L545.9 338.0 L544.3 337.5 L542.8 337.1 L541.2 336.6 L539.7 336.4 L538.1 335.8 L536.6 335.6 L535.0 334.9 L533.5 334.8 L531.9 334.5 L530.4 334.3 L528.8 333.8 L527.3 333.2 L525.7 332.6 L524.2 332.0 L522.6 332.0 L521.1 331.9 L519.5 331.6 L518.0 330.3 L516.4 330.3 L514.9 330.0 L513.3 329.5 L511.7 329.4 L510.2 329.0 L508.6 328.6 L507.1 328.3 L505.5 327.7 L503.9 327.5 L502.3 327.2 L500.8 327.3 L499.2 326.4 L497.6 326.4 L496.1 326.4 L494.5 325.9 L492.9 325.8 L491.3 325.2 L489.7 325.2 L488.2 325.1 L486.6 325.1 L485.0 324.5 L483.4 324.5 L481.8 323.9 L480.3 323.7 L478.7 323.8 L477.1 323.4 L475.5 323.3 L473.9 323.0 L472.3 323.1 L470.7 322.9 L469.1 322.0 L467.6 322.5 L466.0 322.0 L464.4 321.8 L462.8 321.5 L461.2 321.6 L459.6 321.0 L458.0 321.0 L456.4 320.9 L454.8 321.1 L453.2 321.2 L451.6 321.2 L450.0 321.1 L448.4 320.9 L446.8 320.7 L445.2 321.2 L443.6 321.2 L442.0 321.3 L440.4 321.6 L438.8 321.3 L437.2 321.3 L435.6 320.9 L434.0 321.6 L432.4 321.5 L430.8 321.5 L429.2 321.8 L427.6 321.5 L426.0 321.7 L424.4 322.4 L422.8 322.2 L421.2 322.4 L419.6 322.5 L418.0 322.6 L416.4 322.6 L414.8 323.2 L413.3 322.9 L411.7 323.2 L410.1 323.2 L408.5 323.3 L406.9 323.0 L405.3 323.3 L403.7 324.2 L402.1 324.4 L400.5 324.1 L398.9 324.4 L397.3 324.8 L395.8 324.6 L394.2 325.4 L392.6 325.0 L391.0 325.3 L389.4 325.1 L387.8 326.3 L386.3 326.3 L384.7 326.9 L383.1 326.5 L381.5 327.1 L380.0 327.3 L378.4 327.6 L376.8 328.3 L375.2 328.7 L373.7 328.7 L372.1 328.7 L370.5 329.2 L368.9 329.7 L367.4 329.8 L365.8 330.1 L364.3 330.5 L362.7 330.5 L361.1 331.2 L359.6 331.9 L358.0 331.7 L356.5 332.4 L355.0 332.9 L353.4 332.9 L351.9 333.6 L350.3 333.6 L348.8 334.3 L347.2 334.6 L345.7 335.1 L344.7 335.5Z"/>
<path d="M344.7 297.3 L345.2 265.4 L345.6 263.9 L346.0 261.9 L346.5 261.2 L347.0 259.2 L347.6 257.4 L348.2 256.1 L348.9 255.1 L350.0 253.8 L351.4 253.0 L353.0 252.2 L354.5 251.8 L356.0 251.0 L357.5 250.7 L359.0 250.2 L360.5 249.7 L362.1 249.6 L363.7 248.9 L365.3 248.4 L366.9 248.5 L368.4 248.2 L370.0 248.0 L371.6 247.9 L373.2 248.2 L374.8 247.6 L376.4 247.5 L378.0 247.2 L379.6 247.5 L381.2 247.0 L382.8 246.8 L384.4 246.6 L386.0 246.9 L387.6 246.9 L389.2 246.3 L390.8 246.4 L392.4 246.7 L394.0 246.7 L395.6 246.1 L397.2 246.3 L398.8 246.5 L400.4 246.2 L402.0 246.1 L403.6 246.1 L405.2 245.9 L406.8 246.2 L408.4 246.2 L410.0 245.8 L411.6 246.1 L413.2 246.3 L414.8 246.0 L416.4 246.2 L418.0 245.8 L419.6 246.2 L421.2 245.7 L422.8 246.3 L424.4 245.8 L426.0 245.7 L427.6 245.6 L429.2 245.7 L430.8 245.6 L432.4 245.6 L434.0 245.6 L435.6 245.8 L437.2 245.9 L438.8 245.6 L440.4 245.9 L442.0 245.4 L443.6 245.4 L445.2 245.3 L446.8 245.7 L448.4 245.2 L450.0 245.2 L451.6 245.8 L453.2 245.9 L454.8 245.8 L456.4 245.1 L458.0 245.4 L459.6 245.6 L461.2 245.4 L462.8 245.0 L464.4 245.2 L466.0 244.9 L467.6 245.0 L469.2 245.7 L470.8 245.3 L472.4 244.8 L474.0 244.8 L475.6 245.1 L477.2 244.9 L478.8 245.1 L480.4 244.7 L482.0 244.8 L483.6 244.8 L485.2 244.5 L486.8 244.2 L488.4 244.3 L490.0 244.3 L491.6 244.4 L493.2 244.3 L494.8 244.2 L496.4 244.2 L497.9 243.8 L499.5 244.2 L501.1 244.2 L502.7 243.7 L504.3 243.5 L505.9 243.6 L507.5 243.3 L509.1 243.1 L510.7 242.8 L512.3 242.6 L513.9 242.3 L515.5 242.6 L517.1 242.5 L518.7 241.9 L520.3 242.0 L521.9 241.9 L523.4 241.6 L525.0 241.3 L526.6 241.3 L528.2 240.7 L529.8 241.0 L531.4 240.8 L533.0 241.1 L534.6 240.7 L536.2 240.2 L537.8 240.1 L539.4 240.3 L540.9 240.1 L542.5 239.6 L544.1 239.4 L545.7 238.9 L547.3 239.0 L548.9 238.8 L550.5 238.5 L552.1 238.9 L553.7 238.0 L555.3 238.2 L556.9 238.1 L558.4 238.0 L560.0 238.1 L561.6 237.3 L563.2 237.3 L564.8 237.3 L566.4 237.2 L568.0 236.9 L569.6 236.7 L571.2 236.9 L572.8 236.3 L574.4 236.3 L576.0 236.6 L577.6 236.5 L579.2 236.2 L580.8 235.6 L582.3 235.5 L583.9 235.3 L585.5 235.1 L587.1 235.2 L588.7 235.4 L590.3 235.0 L591.9 234.7 L593.5 234.5 L595.1 234.3 L596.7 234.6 L598.3 233.8 L599.9 234.1 L601.5 233.6 L603.1 233.5 L604.7 233.3 L606.3 233.7 L607.8 233.4 L609.4 233.9 L611.0 233.0 L612.6 232.9 L614.2 233.2 L615.8 233.1 L617.4 232.9 L619.0 232.4 L620.6 233.1 L622.2 232.9 L623.8 232.9 L625.4 232.7 L627.0 233.0 L628.6 232.8 L630.2 233.0 L631.8 233.0 L633.4 233.4 L635.0 233.1 L636.6 233.3 L638.2 233.7 L639.8 233.6 L641.4 233.7 L643.0 233.8 L644.6 234.2 L646.2 234.1 L647.8 234.5 L649.3 235.1 L650.9 234.9 L652.5 234.9 L654.1 235.0 L655.7 235.6 L657.3 235.5 L658.9 235.6 L660.5 236.0 L662.0 236.1 L663.6 236.8 L665.2 236.5 L666.8 237.4 L668.4 237.1 L670.0 237.5 L671.6 237.8 L673.1 238.0 L674.7 238.3 L676.3 238.1 L677.9 238.1 L679.5 238.7 L681.1 238.6 L682.7 239.1 L684.3 239.6 L685.8 239.5 L687.4 239.6 L689.0 239.6 L690.6 239.9 L692.2 240.1 L693.8 239.9 L695.4 240.5 L697.0 240.3 L698.6 240.7 L700.2 240.7 L701.8 241.1 L703.4 241.2 L705.0 241.2 L706.6 241.3 L708.2 241.5 L709.8 241.8 L711.4 241.8 L713.0 241.7 L714.6 241.9 L716.2 242.2 L717.8 241.6 L719.4 242.1 L720.9 241.8 L722.5 242.4 L724.1 242.0 L725.7 242.1 L727.3 241.9 L728.9 242.1 L730.5 242.3 L732.1 242.5 L733.7 241.8 L735.3 242.0 L736.9 243.0 L738.5 242.3 L740.1 242.1 L741.7 242.2 L743.3 241.5 L744.9 242.5 L746.5 242.1 L748.1 241.8 L749.7 242.4 L750.5 242.0 L750.5 266.8 L749.4 268.4 L748.3 269.6 L747.1 270.5 L745.8 271.5 L744.5 271.9 L743.1 272.4 L741.7 273.5 L740.1 274.0 L738.6 274.2 L737.0 274.6 L735.3 274.7 L733.7 275.1 L732.1 275.2 L730.5 276.1 L728.9 275.9 L727.4 276.3 L725.8 276.5 L724.2 276.4 L722.6 277.4 L721.0 277.1 L719.4 277.2 L717.8 277.6 L716.3 277.6 L714.7 278.1 L713.1 278.1 L711.5 278.7 L709.9 278.8 L708.3 278.7 L706.8 279.5 L705.2 279.5 L703.6 279.5 L702.0 280.1 L700.4 280.3 L698.9 280.9 L697.3 280.5 L695.7 281.1 L694.1 281.2 L692.5 281.6 L690.9 281.6 L689.4 281.9 L687.8 282.3 L686.2 282.2 L684.6 282.2 L683.0 282.9 L681.5 283.1 L679.9 283.4 L678.3 283.8 L676.7 283.9 L675.1 284.4 L673.6 284.4 L672.0 284.7 L670.4 285.1 L668.8 285.3 L667.2 285.4 L665.7 285.7 L664.1 285.8 L662.5 286.0 L660.9 286.4 L659.3 286.8 L657.8 286.8 L656.2 287.3 L654.6 287.8 L653.0 288.1 L651.4 287.9 L649.8 288.3 L648.3 288.4 L646.7 288.7 L645.1 289.0 L643.5 289.2 L641.9 289.5 L640.4 289.6 L638.8 289.8 L637.2 290.2 L635.6 290.5 L634.1 291.0 L632.5 291.1 L630.9 291.5 L629.4 292.0 L627.8 291.8 L626.2 292.2 L624.6 292.7 L623.1 292.9 L621.5 293.0 L619.9 293.8 L618.4 293.9 L616.8 294.0 L615.2 295.0 L613.7 294.6 L612.1 295.1 L610.5 295.2 L608.9 295.6 L607.4 296.0 L605.8 295.9 L604.2 296.3 L602.6 296.5 L601.0 296.5 L599.4 297.2 L597.8 297.2 L596.2 297.3 L594.6 297.3 L593.0 297.6 L591.5 297.8 L589.9 297.7 L588.3 298.2 L586.7 297.4 L585.1 297.5 L583.5 298.0 L581.9 297.7 L580.3 298.2 L578.7 298.1 L577.1 298.4 L575.5 298.4 L573.9 298.6 L572.3 298.5 L570.7 298.6 L569.1 298.4 L567.5 298.5 L565.9 298.3 L564.3 298.0 L562.7 297.7 L561.1 297.7 L559.5 298.0 L557.9 297.2 L556.3 297.7 L554.7 297.4 L553.1 297.6 L551.5 297.4 L549.9 297.1 L548.3 297.1 L546.7 296.5 L545.1 296.9 L543.5 296.8 L541.9 296.1 L540.3 296.5 L538.7 296.1 L537.2 296.0 L535.6 295.5 L534.0 295.7 L532.4 295.5 L530.8 295.1 L529.2 294.7 L527.6 294.8 L526.1 294.7 L524.5 294.3 L522.9 294.2 L521.3 293.6 L519.7 293.6 L518.1 293.5 L516.5 293.2 L515.0 293.6 L513.4 292.9 L511.8 292.5 L510.2 292.7 L508.6 292.1 L507.0 292.2 L505.4 292.2 L503.8 291.7 L502.2 291.6 L500.6 291.4 L499.0 291.5 L497.4 291.2 L495.8 291.6 L494.2 291.2 L492.6 290.9 L491.1 290.5 L489.5 291.2 L487.9 290.9 L486.3 290.6 L484.7 290.5 L483.1 290.4 L481.5 290.2 L479.9 290.6 L478.3 290.2 L476.7 289.8 L475.1 289.9 L473.5 289.4 L471.9 290.0 L470.3 290.0 L468.7 290.2 L467.1 290.2 L465.5 289.5 L463.9 289.8 L462.3 289.9 L460.7 289.8 L459.1 289.5 L457.5 289.8 L455.9 289.7 L454.3 289.9 L452.7 289.6 L451.1 289.6 L449.5 289.5 L447.9 289.5 L446.3 289.5 L444.7 289.5 L443.1 289.7 L441.5 289.7 L439.9 289.9 L438.3 289.9 L436.7 289.9 L435.1 289.5 L433.5 290.0 L431.9 290.2 L430.3 289.7 L428.7 289.9 L427.1 290.0 L425.5 290.1 L423.9 290.3 L422.3 290.3 L420.7 290.7 L419.1 290.4 L417.5 290.7 L415.9 290.7 L414.3 290.7 L412.7 291.3 L411.1 291.1 L409.5 291.3 L407.9 291.2 L406.3 291.6 L404.7 291.7 L403.1 291.6 L401.5 291.4 L399.9 292.0 L398.3 292.1 L396.7 292.1 L395.2 292.3 L393.6 292.4 L392.0 292.5 L390.4 292.4 L388.8 292.7 L387.2 292.9 L385.6 292.9 L384.0 292.9 L382.4 293.7 L380.8 293.6 L379.2 293.6 L377.6 293.7 L376.0 293.3 L374.4 293.8 L372.8 294.2 L371.3 294.7 L369.7 294.1 L368.1 294.5 L366.5 295.3 L364.9 295.2 L363.3 295.3 L361.7 295.6 L360.1 295.5 L358.5 295.6 L356.9 296.0 L355.3 296.2 L353.7 295.9 L352.1 296.6 L350.6 296.1 L349.0 296.5 L347.4 297.5 L345.8 296.9 L344.7 297.3Z"/>
<path d="M344.7 283.7 L345.2 265.8 L345.6 264.3 L346.2 262.7 L347.0 261.5 L348.0 260.6 L349.3 259.7 L350.7 258.6 L352.2 258.2 L353.7 257.4 L355.2 257.5 L356.7 257.0 L358.3 257.0 L359.9 256.4 L361.6 256.3 L363.2 256.5 L364.9 256.2 L366.5 256.0 L368.1 255.7 L369.7 255.8 L371.3 255.9 L372.9 255.9 L374.5 255.6 L376.1 255.6 L377.6 255.7 L379.2 255.3 L380.8 255.7 L382.4 255.5 L384.0 255.4 L385.6 254.9 L387.2 255.0 L388.8 255.1 L390.4 255.2 L392.0 255.1 L393.6 255.4 L395.2 255.3 L396.8 255.2 L398.4 254.8 L400.0 255.5 L401.6 255.1 L403.2 255.3 L404.8 255.0 L406.5 255.1 L408.1 255.2 L409.7 255.1 L411.3 255.3 L412.9 255.0 L414.5 255.4 L416.1 254.6 L417.7 254.8 L419.3 255.2 L420.9 254.9 L422.5 254.8 L424.1 254.5 L425.7 255.1 L427.3 254.4 L428.9 254.9 L430.5 254.8 L432.1 254.9 L433.7 255.0 L435.3 254.5 L436.9 254.4 L438.5 254.5 L440.1 254.2 L441.7 254.7 L443.3 254.4 L444.9 254.5 L446.5 254.2 L448.1 254.4 L449.7 254.2 L451.3 254.3 L452.9 254.1 L454.5 254.5 L456.1 254.1 L457.7 253.6 L459.3 254.3 L460.9 254.1 L462.5 253.9 L464.1 254.6 L465.7 254.0 L467.3 253.7 L468.9 253.8 L470.5 254.0 L472.1 253.8 L473.7 254.1 L475.3 254.0 L476.9 253.6 L478.5 253.7 L480.1 253.8 L481.7 253.6 L483.3 253.5 L484.9 253.8 L486.5 253.6 L488.1 253.2 L489.7 253.3 L491.3 253.3 L492.9 253.3 L494.5 253.1 L496.1 253.6 L497.7 253.0 L499.2 252.9 L500.8 253.2 L502.4 252.6 L504.0 252.8 L505.6 253.1 L507.2 252.6 L508.8 252.7 L510.4 253.1 L512.0 252.9 L513.6 252.7 L515.2 252.7 L516.8 252.5 L518.4 252.6 L520.0 252.5 L521.6 253.0 L523.2 252.5 L524.8 252.3 L526.4 252.3 L528.0 252.2 L529.6 251.9 L531.2 251.9 L532.8 252.4 L534.4 251.7 L536.0 251.8 L537.6 252.1 L539.2 252.2 L540.8 251.5 L542.4 252.0 L544.0 251.6 L545.6 251.9 L547.2 251.6 L548.8 251.4 L550.4 251.5 L552.0 251.4 L553.6 251.1 L555.2 251.6 L556.8 251.0 L558.4 251.3 L560.0 250.8 L561.6 250.5 L563.2 250.6 L564.8 250.7 L566.4 250.8 L568.0 251.0 L569.6 250.5 L571.2 250.4 L572.8 250.1 L574.4 250.3 L576.0 250.3 L577.6 249.6 L579.2 250.4 L580.8 250.2 L582.4 250.4 L584.0 249.7 L585.6 249.8 L587.2 249.7 L588.8 249.4 L590.4 249.4 L592.0 249.3 L593.6 249.6 L595.2 249.5 L596.8 249.6 L598.4 249.1 L600.0 248.8 L601.6 249.1 L603.2 249.0 L604.8 249.0 L606.4 249.1 L608.0 248.6 L609.6 248.8 L611.2 248.4 L612.8 248.6 L614.4 248.6 L616.0 248.4 L617.6 248.4 L619.2 248.0 L620.8 248.2 L622.4 248.3 L624.0 248.0 L625.6 248.1 L627.2 248.9 L628.7 248.5 L630.3 248.3 L631.9 248.3 L633.5 248.9 L635.1 248.1 L636.7 248.7 L638.3 249.0 L639.9 248.9 L641.5 249.2 L643.1 248.9 L644.7 249.2 L646.3 249.3 L647.9 249.4 L649.5 249.5 L651.1 249.6 L652.7 249.9 L654.3 249.7 L655.9 249.8 L657.5 249.9 L659.1 250.0 L660.7 249.9 L662.3 249.9 L663.9 250.1 L665.5 250.6 L667.1 250.4 L668.7 250.6 L670.3 251.4 L671.9 251.1 L673.5 250.9 L675.1 250.9 L676.7 251.4 L678.3 251.0 L679.9 251.5 L681.5 251.5 L683.1 251.7 L684.7 251.3 L686.3 251.7 L687.9 251.2 L689.5 251.6 L691.1 251.9 L692.7 251.9 L694.3 251.4 L695.9 252.0 L697.5 252.0 L699.1 251.9 L700.7 251.8 L702.3 252.0 L703.9 252.0 L705.5 252.4 L707.1 252.3 L708.7 252.5 L710.3 252.4 L711.9 252.0 L713.5 252.4 L715.1 252.9 L716.7 252.2 L718.3 252.6 L719.9 252.4 L721.5 252.4 L723.1 252.7 L724.7 252.9 L726.3 252.9 L727.8 252.8 L729.4 253.0 L731.0 252.4 L732.6 253.0 L734.2 253.0 L735.8 252.9 L737.4 252.9 L739.0 252.8 L740.6 253.3 L742.2 252.9 L743.8 252.7 L745.4 253.1 L747.0 253.0 L748.6 253.1 L750.2 253.5 L750.3 253.1 L750.3 267.0 L749.0 268.6 L747.7 268.8 L746.4 270.0 L745.0 270.7 L743.5 271.1 L742.0 271.6 L740.4 271.1 L738.8 271.6 L737.2 271.6 L735.5 271.7 L733.9 271.8 L732.3 271.7 L730.7 272.3 L729.1 272.5 L727.5 272.3 L725.9 272.8 L724.3 272.6 L722.7 272.7 L721.1 272.4 L719.5 273.4 L717.9 273.4 L716.3 273.3 L714.7 273.4 L713.1 273.3 L711.5 273.8 L709.9 273.8 L708.3 274.0 L706.7 274.0 L705.1 273.8 L703.5 273.9 L701.9 274.4 L700.3 274.1 L698.7 274.6 L697.1 274.9 L695.6 274.5 L694.0 275.1 L692.4 275.1 L690.8 275.3 L689.2 275.2 L687.6 275.4 L686.0 275.6 L684.4 276.1 L682.8 276.0 L681.2 276.0 L679.6 275.7 L678.0 276.2 L676.4 276.1 L674.8 276.4 L673.2 276.6 L671.6 276.9 L670.0 276.9 L668.4 277.0 L666.8 277.0 L665.2 277.5 L663.6 277.1 L662.0 277.4 L660.5 277.8 L658.9 277.6 L657.3 277.9 L655.7 278.1 L654.1 278.4 L652.5 278.4 L650.9 277.9 L649.3 278.4 L647.7 278.6 L646.1 278.8 L644.5 278.9 L642.9 279.3 L641.3 279.3 L639.7 279.0 L638.1 279.2 L636.5 279.1 L635.0 280.1 L633.4 279.9 L631.8 280.1 L630.2 280.0 L628.6 280.4 L627.0 280.8 L625.4 280.9 L623.8 281.1 L622.3 281.2 L620.7 282.0 L619.1 281.6 L617.5 281.6 L615.9 282.0 L614.3 282.2 L612.7 282.4 L611.1 282.5 L609.5 282.5 L607.9 282.9 L606.3 283.1 L604.8 282.9 L603.2 283.8 L601.6 283.9 L600.0 283.2 L598.4 283.6 L596.8 284.1 L595.2 284.2 L593.6 284.4 L592.0 283.7 L590.4 283.9 L588.8 284.1 L587.2 284.3 L585.6 284.0 L584.0 284.4 L582.4 284.4 L580.8 284.5 L579.2 284.1 L577.6 284.5 L576.0 284.4 L574.4 284.4 L572.8 284.7 L571.2 284.4 L569.6 284.8 L568.0 284.3 L566.4 284.8 L564.8 284.7 L563.2 284.0 L561.6 284.2 L560.0 284.1 L558.4 283.7 L556.8 283.9 L555.2 283.8 L553.6 283.4 L552.0 283.5 L550.4 283.5 L548.8 283.2 L547.2 283.0 L545.6 283.4 L544.0 282.7 L542.4 282.8 L540.8 282.9 L539.3 282.7 L537.7 282.0 L536.1 282.2 L534.5 282.1 L532.9 282.0 L531.3 282.0 L529.7 281.9 L528.1 281.6 L526.5 281.5 L524.9 281.5 L523.3 281.5 L521.7 280.6 L520.1 281.4 L518.5 280.7 L516.9 280.9 L515.3 280.2 L513.7 280.4 L512.1 280.1 L510.5 280.6 L508.9 280.4 L507.3 280.2 L505.7 280.1 L504.1 280.1 L502.5 279.7 L500.9 279.7 L499.4 279.6 L497.8 279.9 L496.2 279.7 L494.6 279.3 L493.0 279.6 L491.4 279.6 L489.8 279.7 L488.2 279.3 L486.6 279.4 L485.0 279.7 L483.4 279.2 L481.8 279.1 L480.2 279.2 L478.6 279.0 L477.0 279.1 L475.4 278.9 L473.8 278.8 L472.2 279.2 L470.6 278.9 L469.0 278.7 L467.4 278.8 L465.8 278.9 L464.2 279.0 L462.6 279.1 L461.0 279.3 L459.4 278.6 L457.8 278.8 L456.2 278.5 L454.6 278.9 L453.0 279.0 L451.4 278.7 L449.8 278.6 L448.2 278.6 L446.6 278.5 L445.0 279.0 L443.4 279.2 L441.8 278.6 L440.2 279.2 L438.6 278.8 L437.0 278.5 L435.4 278.9 L433.8 279.0 L432.2 278.9 L430.6 278.7 L429.0 279.2 L427.4 278.7 L425.8 278.9 L424.2 278.9 L422.6 278.6 L421.0 278.4 L419.4 278.4 L417.8 278.7 L416.2 278.9 L414.6 278.4 L413.0 278.7 L411.4 279.3 L409.8 278.6 L408.2 279.1 L406.6 279.2 L405.0 279.3 L403.4 278.9 L401.8 279.4 L400.2 279.1 L398.6 279.8 L397.0 279.4 L395.4 279.8 L393.8 279.6 L392.2 280.0 L390.6 279.7 L389.0 280.2 L387.4 280.4 L385.8 280.4 L384.2 280.8 L382.6 280.7 L381.0 280.9 L379.4 280.9 L377.8 281.3 L376.2 280.9 L374.6 281.0 L373.0 281.2 L371.4 281.5 L369.8 281.5 L368.2 281.7 L366.6 281.7 L365.0 281.6 L363.4 281.9 L361.9 282.1 L360.3 281.6 L358.7 282.5 L357.1 282.2 L355.5 282.4 L353.9 282.7 L352.3 282.7 L350.7 282.6 L349.1 283.0 L347.5 283.5 L345.9 283.5 L344.7 283.7Z"/>
<path d="M344.7 275.2 L345.2 266.2 L346.0 264.7 L347.0 263.6 L348.1 262.8 L349.4 261.9 L350.9 261.1 L352.6 260.5 L354.2 261.0 L355.8 260.2 L357.4 260.5 L359.0 260.5 L360.6 261.0 L362.1 260.2 L363.7 260.1 L365.3 260.1 L367.0 260.1 L368.6 260.2 L370.2 260.0 L371.8 259.7 L373.4 259.3 L375.0 259.8 L376.6 259.6 L378.2 260.0 L379.8 259.4 L381.4 259.7 L383.0 259.5 L384.6 259.5 L386.2 260.0 L387.8 259.7 L389.4 259.6 L391.0 259.8 L392.6 259.4 L394.2 259.5 L395.8 259.4 L397.4 260.0 L399.0 259.6 L400.6 259.7 L402.2 259.8 L403.8 259.5 L405.4 259.5 L407.0 259.1 L408.6 259.6 L410.2 259.6 L411.8 259.4 L413.4 259.8 L415.0 259.1 L416.6 259.6 L418.2 259.1 L419.8 259.2 L421.4 259.4 L423.0 259.7 L424.6 259.2 L426.2 259.2 L427.8 259.2 L429.4 259.9 L431.0 259.5 L432.6 259.5 L434.2 259.9 L435.8 259.5 L437.4 258.9 L439.0 259.3 L440.6 259.1 L442.2 259.9 L443.8 259.1 L445.4 259.4 L447.0 259.3 L448.6 259.3 L450.2 259.4 L451.8 259.3 L453.4 259.2 L455.0 259.1 L456.6 259.2 L458.2 259.1 L459.8 259.1 L461.4 259.4 L463.0 259.3 L464.6 259.4 L466.2 259.3 L467.8 259.7 L469.4 259.1 L471.0 259.1 L472.6 259.5 L474.2 259.1 L475.8 259.3 L477.4 259.5 L479.0 259.2 L480.6 259.2 L482.2 259.5 L483.8 259.3 L485.4 259.1 L487.0 258.9 L488.6 259.1 L490.2 258.8 L491.8 259.0 L493.4 258.9 L495.0 259.2 L496.6 259.3 L498.2 259.0 L499.8 259.0 L501.4 258.8 L503.0 258.8 L504.6 259.0 L506.2 259.2 L507.8 259.1 L509.4 259.1 L511.0 258.9 L512.6 258.3 L514.2 259.2 L515.8 259.2 L517.4 259.1 L519.0 259.1 L520.6 259.1 L522.2 259.5 L523.8 258.9 L525.4 259.2 L527.0 259.0 L528.6 258.9 L530.2 258.7 L531.8 258.6 L533.4 258.4 L535.0 258.8 L536.6 258.6 L538.2 258.4 L539.8 258.4 L541.4 258.3 L543.0 258.9 L544.6 258.5 L546.2 258.5 L547.8 258.2 L549.4 258.2 L551.0 258.6 L552.6 258.3 L554.2 258.3 L555.8 258.7 L557.4 258.7 L559.0 258.3 L560.6 258.2 L562.2 258.1 L563.8 258.0 L565.4 258.5 L567.0 257.7 L568.6 257.9 L570.2 257.4 L571.8 257.5 L573.4 257.9 L575.0 257.8 L576.6 257.8 L578.2 257.6 L579.8 257.4 L581.4 257.4 L583.0 257.4 L584.6 257.7 L586.2 257.8 L587.8 257.5 L589.4 257.3 L591.0 257.2 L592.6 257.4 L594.2 257.3 L595.8 256.9 L597.4 257.6 L599.0 257.3 L600.6 257.2 L602.2 257.0 L603.8 257.0 L605.4 257.4 L607.0 256.9 L608.6 257.1 L610.2 257.2 L611.8 257.5 L613.4 257.2 L615.0 257.0 L616.6 256.9 L618.2 257.2 L619.8 257.2 L621.4 256.8 L623.0 257.0 L624.6 256.9 L626.2 256.5 L627.8 256.6 L629.4 257.0 L631.0 257.2 L632.6 257.0 L634.2 256.8 L635.8 256.6 L637.4 256.9 L639.0 256.9 L640.6 256.4 L642.2 257.0 L643.8 256.6 L645.4 257.0 L647.0 256.9 L648.6 257.0 L650.2 257.1 L651.8 257.0 L653.4 256.6 L655.0 256.7 L656.6 257.1 L658.2 257.0 L659.8 256.6 L661.4 256.5 L663.0 257.2 L664.6 257.5 L666.2 257.2 L667.8 257.0 L669.4 257.1 L671.0 256.5 L672.6 256.9 L674.2 257.4 L675.8 257.3 L677.4 256.7 L679.0 257.5 L680.6 257.3 L682.2 257.4 L683.8 257.2 L685.4 257.3 L687.0 257.0 L688.6 257.4 L690.2 257.5 L691.8 257.1 L693.4 257.4 L695.0 257.2 L696.6 257.6 L698.2 257.6 L699.8 256.9 L701.4 257.5 L703.0 257.7 L704.6 257.3 L706.2 257.4 L707.8 257.4 L709.4 257.2 L711.0 257.5 L712.6 257.9 L714.2 257.6 L715.8 257.9 L717.4 257.8 L719.0 257.9 L720.6 257.6 L722.2 257.8 L723.8 258.1 L725.4 258.0 L727.0 257.7 L728.6 257.5 L730.2 257.5 L731.8 257.8 L733.4 257.8 L735.0 257.3 L736.6 257.8 L738.2 257.9 L739.8 257.9 L741.4 257.7 L743.0 258.4 L744.6 258.0 L746.2 257.5 L747.8 257.7 L749.4 258.1 L750.2 258.0 L750.2 267.0 L748.7 267.7 L747.2 268.4 L745.8 268.9 L744.2 269.1 L742.7 269.7 L741.2 269.0 L739.6 269.6 L738.0 270.2 L736.5 269.8 L734.9 269.8 L733.3 270.6 L731.7 270.5 L730.1 270.3 L728.5 270.3 L726.9 270.4 L725.3 270.5 L723.7 270.6 L722.1 270.5 L720.5 270.8 L718.9 270.6 L717.2 270.4 L715.6 270.6 L714.0 270.9 L712.4 270.7 L710.8 270.4 L709.1 271.4 L707.5 271.2 L705.9 271.0 L704.3 271.0 L702.7 271.3 L701.1 271.6 L699.5 271.2 L697.9 271.5 L696.3 271.3 L694.7 271.6 L693.1 271.3 L691.5 271.2 L689.9 271.7 L688.3 271.7 L686.7 271.9 L685.1 271.7 L683.5 272.2 L681.9 271.9 L680.3 272.3 L678.7 271.9 L677.1 272.4 L675.5 272.1 L673.9 272.2 L672.3 272.4 L670.7 271.9 L669.1 272.1 L667.5 272.8 L665.9 272.1 L664.3 272.3 L662.7 272.6 L661.1 272.9 L659.5 272.5 L657.9 272.7 L656.3 272.4 L654.7 272.7 L653.1 273.0 L651.5 272.9 L649.9 272.9 L648.3 273.0 L646.7 273.0 L645.1 273.1 L643.5 273.0 L641.9 272.9 L640.3 273.3 L638.7 273.0 L637.1 273.5 L635.5 273.8 L633.9 273.7 L632.3 274.0 L630.7 273.3 L629.1 273.6 L627.5 273.4 L625.9 273.5 L624.3 273.3 L622.7 273.5 L621.1 274.0 L619.5 274.1 L617.9 274.2 L616.3 274.3 L614.7 274.3 L613.1 274.0 L611.5 274.2 L609.9 274.4 L608.3 274.6 L606.7 274.3 L605.1 274.3 L603.5 274.3 L601.9 274.8 L600.3 274.6 L598.7 274.4 L597.1 274.4 L595.5 274.7 L593.9 274.2 L592.3 274.5 L590.7 274.5 L589.1 274.5 L587.5 274.6 L585.9 274.7 L584.3 275.3 L582.7 274.6 L581.1 274.7 L579.5 274.4 L577.9 274.2 L576.3 274.8 L574.7 275.0 L573.1 274.3 L571.5 274.5 L569.9 274.8 L568.3 274.6 L566.7 274.0 L565.1 274.8 L563.5 274.5 L561.9 274.7 L560.3 274.3 L558.7 274.7 L557.1 274.7 L555.5 274.3 L553.9 274.6 L552.3 274.3 L550.7 274.4 L549.1 274.3 L547.5 274.3 L545.9 274.3 L544.3 274.7 L542.7 274.4 L541.1 274.2 L539.5 274.7 L537.9 274.5 L536.3 274.6 L534.7 274.4 L533.1 274.5 L531.5 274.3 L529.9 274.1 L528.3 274.3 L526.7 274.3 L525.1 274.3 L523.5 274.4 L521.9 273.8 L520.3 274.3 L518.7 274.0 L517.1 274.1 L515.5 274.2 L513.9 274.1 L512.3 273.9 L510.7 274.2 L509.1 274.0 L507.5 274.2 L505.9 274.3 L504.3 273.9 L502.7 273.7 L501.1 273.9 L499.5 274.1 L497.9 274.0 L496.3 273.6 L494.7 273.5 L493.1 273.6 L491.5 273.6 L489.9 273.9 L488.3 273.8 L486.7 274.0 L485.1 273.7 L483.5 274.1 L481.9 273.7 L480.3 273.8 L478.7 273.6 L477.1 273.8 L475.5 273.9 L473.9 273.9 L472.3 274.0 L470.7 273.5 L469.1 273.8 L467.5 274.0 L465.9 273.7 L464.3 273.6 L462.7 273.6 L461.1 273.5 L459.5 273.6 L457.9 273.9 L456.3 273.7 L454.7 273.6 L453.1 273.4 L451.5 273.3 L449.9 274.1 L448.3 273.5 L446.7 273.6 L445.1 273.5 L443.5 273.6 L441.9 273.5 L440.3 273.6 L438.7 273.9 L437.1 273.4 L435.5 273.6 L433.9 273.5 L432.3 273.7 L430.7 273.4 L429.1 273.6 L427.5 273.3 L425.9 273.1 L424.3 273.2 L422.7 273.3 L421.1 273.3 L419.5 273.4 L417.9 273.8 L416.3 273.3 L414.7 273.6 L413.1 273.6 L411.5 273.4 L409.9 273.4 L408.3 273.7 L406.7 273.8 L405.1 273.6 L403.5 273.7 L401.9 273.8 L400.3 273.5 L398.7 273.9 L397.1 274.0 L395.5 274.3 L393.9 273.7 L392.4 273.8 L390.8 274.1 L389.2 274.0 L387.6 274.1 L386.0 274.3 L384.4 274.2 L382.8 274.3 L381.2 274.5 L379.6 274.1 L378.0 274.6 L376.4 274.1 L374.8 275.0 L373.2 274.9 L371.6 274.6 L370.0 275.0 L368.4 274.8 L366.8 275.0 L365.2 275.1 L363.6 275.1 L362.0 275.0 L360.4 275.2 L358.8 275.1 L357.2 275.1 L355.6 275.1 L354.0 274.9 L352.4 275.7 L350.8 275.6 L349.2 275.2 L347.6 275.7 L346.0 275.7 L344.7 275.2Z"/>
<path d="M344.6 271.0 L345.2 266.5 L345.7 266.5 L346.1 266.4 L346.4 266.4 L346.7 266.3 L346.9 266.3 L347.1 266.2 L347.2 266.2 L347.4 266.1 L347.5 266.1 L347.6 266.0 L347.8 265.9 L347.9 265.9 L348.1 265.8 L348.2 265.8 L348.4 265.7 L348.6 265.7 L348.8 265.6 L349.1 265.6 L349.4 265.5 L349.7 265.5 L350.0 265.4 L350.3 265.4 L350.7 265.3 L351.1 265.3 L351.5 265.2 L352.0 265.1 L352.4 265.1 L352.9 265.0 L353.4 265.0 L354.0 264.9 L354.6 264.9 L355.3 264.8 L356.0 264.8 L356.7 264.7 L357.5 264.7 L358.3 264.7 L359.2 264.6 L360.2 264.6 L361.2 264.5 L362.3 264.5 L363.4 264.4 L364.6 264.4 L365.8 264.4 L367.0 264.3 L368.2 264.3 L369.4 264.3 L370.7 264.2 L372.0 264.2 L373.4 264.2 L374.8 264.1 L376.3 264.1 L377.7 264.1 L379.1 264.1 L380.6 264.0 L382.0 264.0 L383.5 264.0 L385.0 264.0 L386.5 264.0 L388.1 263.9 L389.6 263.9 L391.2 263.9 L392.7 263.9 L394.2 263.9 L395.8 263.9 L397.4 263.9 L398.9 263.9 L400.5 263.8 L402.1 263.8 L403.7 263.8 L405.3 263.8 L406.8 263.8 L408.4 263.8 L410.0 263.8 L411.6 263.8 L413.2 263.8 L414.7 263.8 L416.3 263.8 L417.9 263.8 L419.5 263.7 L421.1 263.7 L422.7 263.7 L424.3 263.7 L425.8 263.7 L427.4 263.7 L429.0 263.7 L430.6 263.7 L432.2 263.7 L433.8 263.7 L435.4 263.7 L437.0 263.7 L438.6 263.7 L440.2 263.7 L441.8 263.7 L443.3 263.7 L444.9 263.6 L446.5 263.6 L448.1 263.6 L449.7 263.6 L451.3 263.6 L452.9 263.6 L454.5 263.6 L456.1 263.6 L457.7 263.6 L459.3 263.6 L460.8 263.6 L462.4 263.6 L464.0 263.6 L465.6 263.6 L467.2 263.6 L468.8 263.6 L470.4 263.6 L472.0 263.6 L473.6 263.5 L475.2 263.5 L476.8 263.5 L478.4 263.5 L479.9 263.5 L481.5 263.5 L483.1 263.5 L484.7 263.5 L486.2 263.5 L487.8 263.5 L489.4 263.5 L490.9 263.4 L492.5 263.4 L494.0 263.4 L495.6 263.4 L497.1 263.4 L498.7 263.4 L500.3 263.4 L501.8 263.4 L503.4 263.3 L504.9 263.3 L506.5 263.3 L508.0 263.3 L509.5 263.3 L511.0 263.3 L512.6 263.3 L514.1 263.2 L515.6 263.2 L517.1 263.2 L518.6 263.2 L520.1 263.2 L521.5 263.1 L523.0 263.1 L524.5 263.1 L526.0 263.1 L527.5 263.1 L528.9 263.0 L530.4 263.0 L531.9 263.0 L533.3 263.0 L534.8 262.9 L536.2 262.9 L537.7 262.9 L539.1 262.9 L540.5 262.8 L542.0 262.8 L543.4 262.8 L544.8 262.8 L546.2 262.7 L547.7 262.7 L549.1 262.7 L550.5 262.7 L551.9 262.6 L553.3 262.6 L554.7 262.6 L556.1 262.6 L557.6 262.5 L559.0 262.5 L560.4 262.5 L561.8 262.5 L563.2 262.4 L564.5 262.4 L565.9 262.4 L567.3 262.4 L568.7 262.3 L570.1 262.3 L571.5 262.3 L572.9 262.2 L574.3 262.2 L575.7 262.2 L577.1 262.2 L578.5 262.1 L579.9 262.1 L581.3 262.1 L582.7 262.1 L584.1 262.0 L585.5 262.0 L586.9 262.0 L588.3 262.0 L589.8 261.9 L591.2 261.9 L592.6 261.9 L594.1 261.9 L595.5 261.8 L597.0 261.8 L598.4 261.8 L599.9 261.8 L601.4 261.8 L602.9 261.7 L604.4 261.7 L605.9 261.7 L607.4 261.7 L609.0 261.7 L610.5 261.7 L612.1 261.6 L613.7 261.6 L615.2 261.6 L616.8 261.6 L618.4 261.6 L620.0 261.6 L621.6 261.6 L623.2 261.6 L624.8 261.6 L626.4 261.6 L628.0 261.6 L629.6 261.6 L631.2 261.6 L632.8 261.6 L634.4 261.6 L635.9 261.6 L637.5 261.7 L639.1 261.7 L640.6 261.7 L642.2 261.7 L643.7 261.7 L645.2 261.7 L646.7 261.8 L648.2 261.8 L649.7 261.8 L651.2 261.8 L652.7 261.8 L654.2 261.9 L655.7 261.9 L657.1 261.9 L658.6 261.9 L660.1 261.9 L661.5 262.0 L663.0 262.0 L664.4 262.0 L665.8 262.0 L667.3 262.1 L668.7 262.1 L670.1 262.1 L671.6 262.1 L673.0 262.2 L674.4 262.2 L675.9 262.2 L677.3 262.2 L678.8 262.2 L680.2 262.3 L681.7 262.3 L683.1 262.3 L684.6 262.3 L686.1 262.4 L687.5 262.4 L689.0 262.4 L690.4 262.4 L691.9 262.5 L693.4 262.5 L694.8 262.5 L696.3 262.5 L697.8 262.5 L699.3 262.6 L700.8 262.6 L702.3 262.6 L703.8 262.6 L705.3 262.6 L706.9 262.6 L708.4 262.7 L709.9 262.7 L711.5 262.7 L713.0 262.7 L714.6 262.7 L716.1 262.7 L717.7 262.7 L719.2 262.8 L720.8 262.8 L722.4 262.8 L723.9 262.8 L725.5 262.8 L727.1 262.8 L728.7 262.8 L730.2 262.8 L731.8 262.8 L733.4 262.8 L735.0 262.8 L736.6 262.8 L738.2 262.8 L739.8 262.9 L741.4 262.9 L743.0 262.9 L744.6 262.9 L746.2 262.9 L747.8 262.9 L749.4 262.9 L751.0 262.9 L751.3 262.9 L751.3 266.7 L750.4 266.8 L749.6 266.8 L748.8 266.8 L748.1 266.9 L747.4 266.9 L746.9 267.0 L746.3 267.0 L745.8 267.1 L745.4 267.2 L744.9 267.2 L744.4 267.3 L743.9 267.3 L743.3 267.4 L742.7 267.4 L742.1 267.5 L741.4 267.5 L740.6 267.6 L739.8 267.6 L739.0 267.7 L738.2 267.7 L737.3 267.7 L736.4 267.8 L735.4 267.8 L734.5 267.9 L733.5 267.9 L732.5 268.0 L731.5 268.0 L730.4 268.0 L729.4 268.1 L728.3 268.1 L727.1 268.2 L725.9 268.2 L724.7 268.2 L723.4 268.3 L722.1 268.3 L720.8 268.3 L719.5 268.4 L718.2 268.4 L716.8 268.4 L715.5 268.5 L714.2 268.5 L712.9 268.5 L711.5 268.5 L710.2 268.6 L708.8 268.6 L707.4 268.6 L706.1 268.7 L704.7 268.7 L703.3 268.7 L701.9 268.7 L700.5 268.8 L699.1 268.8 L697.7 268.8 L696.2 268.8 L694.8 268.9 L693.3 268.9 L691.9 268.9 L690.5 268.9 L689.0 269.0 L687.6 269.0 L686.2 269.0 L684.8 269.0 L683.5 269.1 L682.1 269.1 L680.7 269.1 L679.4 269.2 L678.1 269.2 L676.8 269.2 L675.4 269.3 L674.1 269.3 L672.9 269.3 L671.6 269.3 L670.3 269.4 L669.1 269.4 L667.8 269.4 L666.6 269.5 L665.4 269.5 L664.2 269.6 L663.0 269.6 L661.8 269.6 L660.6 269.7 L659.4 269.7 L658.2 269.7 L657.1 269.8 L655.9 269.8 L654.7 269.8 L653.5 269.9 L652.4 269.9 L651.2 270.0 L650.1 270.0 L648.9 270.0 L647.8 270.1 L646.7 270.1 L645.5 270.2 L644.4 270.2 L643.2 270.2 L642.1 270.3 L640.9 270.3 L639.7 270.3 L638.6 270.4 L637.4 270.4 L636.2 270.5 L635.1 270.5 L633.9 270.5 L632.7 270.6 L631.5 270.6 L630.3 270.6 L629.1 270.7 L627.9 270.7 L626.7 270.7 L625.5 270.8 L624.3 270.8 L623.0 270.8 L621.8 270.9 L620.5 270.9 L619.3 270.9 L618.0 271.0 L616.7 271.0 L615.4 271.0 L614.1 271.1 L612.8 271.1 L611.5 271.1 L610.2 271.2 L608.8 271.2 L607.5 271.2 L606.2 271.3 L604.8 271.3 L603.4 271.3 L602.1 271.3 L600.7 271.4 L599.3 271.4 L597.9 271.4 L596.5 271.5 L595.0 271.5 L593.6 271.5 L592.2 271.5 L590.7 271.5 L589.2 271.6 L587.7 271.6 L586.2 271.6 L584.7 271.6 L583.1 271.6 L581.6 271.7 L580.0 271.7 L578.4 271.7 L576.8 271.7 L575.3 271.7 L573.6 271.7 L572.0 271.7 L570.4 271.7 L568.8 271.6 L567.2 271.6 L565.7 271.6 L564.2 271.6 L562.6 271.6 L561.1 271.6 L559.6 271.6 L558.1 271.5 L556.6 271.5 L555.1 271.5 L553.6 271.5 L552.2 271.5 L550.7 271.4 L549.2 271.4 L547.8 271.4 L546.3 271.4 L544.9 271.4 L543.5 271.3 L542.0 271.3 L540.6 271.3 L539.2 271.3 L537.7 271.2 L536.3 271.2 L534.9 271.2 L533.4 271.2 L532.0 271.1 L530.6 271.1 L529.1 271.1 L527.7 271.1 L526.3 271.0 L524.9 271.0 L523.4 271.0 L522.0 271.0 L520.6 270.9 L519.2 270.9 L517.7 270.9 L516.3 270.9 L514.9 270.8 L513.4 270.8 L512.0 270.8 L510.5 270.8 L509.1 270.7 L507.6 270.7 L506.2 270.7 L504.7 270.7 L503.2 270.7 L501.8 270.6 L500.3 270.6 L498.8 270.6 L497.3 270.6 L495.8 270.5 L494.4 270.5 L492.9 270.5 L491.4 270.5 L489.9 270.5 L488.3 270.5 L486.8 270.4 L485.3 270.4 L483.8 270.4 L482.2 270.4 L480.7 270.4 L479.1 270.4 L477.5 270.4 L476.0 270.3 L474.4 270.3 L472.8 270.3 L471.3 270.3 L469.7 270.3 L468.1 270.3 L466.5 270.3 L465.0 270.3 L463.4 270.3 L461.8 270.3 L460.2 270.3 L458.6 270.2 L457.0 270.2 L455.4 270.2 L453.8 270.2 L452.2 270.2 L450.6 270.2 L449.0 270.2 L447.4 270.2 L445.8 270.2 L444.2 270.2 L442.6 270.2 L441.0 270.2 L439.4 270.3 L437.8 270.3 L436.2 270.3 L434.6 270.3 L433.0 270.3 L431.4 270.3 L429.8 270.3 L428.3 270.3 L426.7 270.3 L425.1 270.3 L423.5 270.3 L421.9 270.3 L420.3 270.3 L418.7 270.3 L417.1 270.3 L415.5 270.3 L414.0 270.3 L412.4 270.3 L410.8 270.4 L409.2 270.4 L407.6 270.4 L406.0 270.4 L404.5 270.4 L402.9 270.4 L401.3 270.4 L399.7 270.4 L398.1 270.4 L396.6 270.4 L395.0 270.4 L393.4 270.5 L391.9 270.5 L390.3 270.5 L388.7 270.5 L387.1 270.5 L385.6 270.5 L384.0 270.5 L382.5 270.5 L380.9 270.5 L379.4 270.6 L377.8 270.6 L376.3 270.6 L374.7 270.6 L373.2 270.6 L371.6 270.6 L370.1 270.6 L368.6 270.7 L367.1 270.7 L365.6 270.7 L364.1 270.7 L362.6 270.7 L361.1 270.8 L359.6 270.8 L358.1 270.8 L356.6 270.8 L355.1 270.8 L353.7 270.9 L352.2 270.9 L350.7 270.9 L349.3 270.9 L347.8 270.9 L346.4 271.0 L344.9 271.0 L344.6 271.0Z"/>
<path d="M344.6 269.2 L345.2 266.6 L345.7 266.6 L346.1 266.5 L346.4 266.5 L346.7 266.5 L346.9 266.5 L347.1 266.4 L347.2 266.4 L347.4 266.4 L347.5 266.3 L347.6 266.3 L347.8 266.3 L347.9 266.2 L348.1 266.2 L348.2 266.2 L348.4 266.1 L348.6 266.1 L348.8 266.1 L349.1 266.0 L349.4 266.0 L349.7 266.0 L350.0 265.9 L350.3 265.9 L350.7 265.9 L351.1 265.8 L351.5 265.8 L352.0 265.8 L352.4 265.8 L352.9 265.7 L353.4 265.7 L354.0 265.7 L354.6 265.6 L355.3 265.6 L356.0 265.6 L356.7 265.5 L357.5 265.5 L358.3 265.5 L359.2 265.5 L360.2 265.4 L361.2 265.4 L362.3 265.4 L363.4 265.4 L364.6 265.3 L365.8 265.3 L367.0 265.3 L368.2 265.3 L369.4 265.3 L370.7 265.2 L372.0 265.2 L373.4 265.2 L374.8 265.2 L376.3 265.2 L377.7 265.2 L379.1 265.1 L380.6 265.1 L382.0 265.1 L383.5 265.1 L385.0 265.1 L386.5 265.1 L388.1 265.1 L389.6 265.1 L391.2 265.1 L392.7 265.1 L394.2 265.0 L395.8 265.0 L397.4 265.0 L398.9 265.0 L400.5 265.0 L402.1 265.0 L403.7 265.0 L405.3 265.0 L406.8 265.0 L408.4 265.0 L410.0 265.0 L411.6 265.0 L413.2 265.0 L414.7 265.0 L416.3 265.0 L417.9 265.0 L419.5 265.0 L421.1 265.0 L422.7 265.0 L424.3 264.9 L425.8 264.9 L427.4 264.9 L429.0 264.9 L430.6 264.9 L432.2 264.9 L433.8 264.9 L435.4 264.9 L437.0 264.9 L438.6 264.9 L440.2 264.9 L441.8 264.9 L443.3 264.9 L444.9 264.9 L446.5 264.9 L448.1 264.9 L449.7 264.9 L451.3 264.9 L452.9 264.9 L454.5 264.9 L456.1 264.9 L457.7 264.9 L459.3 264.9 L460.8 264.9 L462.4 264.9 L464.0 264.9 L465.6 264.9 L467.2 264.9 L468.8 264.9 L470.4 264.9 L472.0 264.8 L473.6 264.8 L475.2 264.8 L476.8 264.8 L478.4 264.8 L479.9 264.8 L481.5 264.8 L483.1 264.8 L484.7 264.8 L486.2 264.8 L487.8 264.8 L489.4 264.8 L490.9 264.8 L492.5 264.8 L494.0 264.8 L495.6 264.8 L497.1 264.8 L498.7 264.7 L500.3 264.7 L501.8 264.7 L503.4 264.7 L504.9 264.7 L506.5 264.7 L508.0 264.7 L509.5 264.7 L511.0 264.7 L512.6 264.7 L514.1 264.7 L515.6 264.6 L517.1 264.6 L518.6 264.6 L520.1 264.6 L521.5 264.6 L523.0 264.6 L524.5 264.6 L526.0 264.6 L527.5 264.6 L528.9 264.5 L530.4 264.5 L531.9 264.5 L533.3 264.5 L534.8 264.5 L536.2 264.5 L537.7 264.5 L539.1 264.4 L540.5 264.4 L542.0 264.4 L543.4 264.4 L544.8 264.4 L546.2 264.4 L547.7 264.4 L549.1 264.3 L550.5 264.3 L551.9 264.3 L553.3 264.3 L554.7 264.3 L556.1 264.3 L557.6 264.3 L559.0 264.2 L560.4 264.2 L561.8 264.2 L563.2 264.2 L564.5 264.2 L565.9 264.2 L567.3 264.1 L568.7 264.1 L570.1 264.1 L571.5 264.1 L572.9 264.1 L574.3 264.1 L575.7 264.1 L577.1 264.0 L578.5 264.0 L579.9 264.0 L581.3 264.0 L582.7 264.0 L584.1 264.0 L585.5 263.9 L586.9 263.9 L588.3 263.9 L589.8 263.9 L591.2 263.9 L592.6 263.9 L594.1 263.9 L595.5 263.8 L597.0 263.8 L598.4 263.8 L599.9 263.8 L601.4 263.8 L602.9 263.8 L604.4 263.8 L605.9 263.8 L607.4 263.7 L609.0 263.7 L610.5 263.7 L612.1 263.7 L613.7 263.7 L615.2 263.7 L616.8 263.7 L618.4 263.7 L620.0 263.7 L621.6 263.7 L623.2 263.7 L624.8 263.7 L626.4 263.7 L628.0 263.7 L629.6 263.7 L631.2 263.7 L632.8 263.7 L634.4 263.7 L635.9 263.7 L637.5 263.7 L639.1 263.7 L640.6 263.8 L642.2 263.8 L643.7 263.8 L645.2 263.8 L646.7 263.8 L648.2 263.8 L649.7 263.8 L651.2 263.8 L652.7 263.8 L654.2 263.8 L655.7 263.9 L657.1 263.9 L658.6 263.9 L660.1 263.9 L661.5 263.9 L663.0 263.9 L664.4 263.9 L665.8 264.0 L667.3 264.0 L668.7 264.0 L670.1 264.0 L671.6 264.0 L673.0 264.0 L674.4 264.0 L675.9 264.1 L677.3 264.1 L678.8 264.1 L680.2 264.1 L681.7 264.1 L683.1 264.1 L684.6 264.1 L686.1 264.1 L687.5 264.2 L689.0 264.2 L690.4 264.2 L691.9 264.2 L693.4 264.2 L694.8 264.2 L696.3 264.2 L697.8 264.3 L699.3 264.3 L700.8 264.3 L702.3 264.3 L703.8 264.3 L705.3 264.3 L706.9 264.3 L708.4 264.3 L709.9 264.3 L711.5 264.3 L713.0 264.3 L714.6 264.4 L716.1 264.4 L717.7 264.4 L719.2 264.4 L720.8 264.4 L722.4 264.4 L723.9 264.4 L725.5 264.4 L727.1 264.4 L728.7 264.4 L730.2 264.4 L731.8 264.4 L733.4 264.4 L735.0 264.4 L736.6 264.4 L738.2 264.4 L739.8 264.4 L741.4 264.4 L743.0 264.4 L744.6 264.4 L746.2 264.4 L747.8 264.4 L749.4 264.4 L751.0 264.5 L751.3 264.5 L751.3 266.7 L750.4 266.7 L749.6 266.8 L748.8 266.8 L748.1 266.8 L747.4 266.8 L746.9 266.9 L746.3 266.9 L745.8 266.9 L745.4 267.0 L744.9 267.0 L744.4 267.0 L743.9 267.1 L743.3 267.1 L742.7 267.1 L742.1 267.1 L741.4 267.2 L740.6 267.2 L739.8 267.2 L739.0 267.3 L738.2 267.3 L737.3 267.3 L736.4 267.3 L735.4 267.4 L734.5 267.4 L733.5 267.4 L732.5 267.4 L731.5 267.5 L730.4 267.5 L729.4 267.5 L728.3 267.5 L727.1 267.6 L725.9 267.6 L724.7 267.6 L723.4 267.6 L722.1 267.6 L720.8 267.7 L719.5 267.7 L718.2 267.7 L716.8 267.7 L715.5 267.7 L714.2 267.8 L712.9 267.8 L711.5 267.8 L710.2 267.8 L708.8 267.8 L707.4 267.8 L706.1 267.9 L704.7 267.9 L703.3 267.9 L701.9 267.9 L700.5 267.9 L699.1 267.9 L697.7 267.9 L696.2 268.0 L694.8 268.0 L693.3 268.0 L691.9 268.0 L690.5 268.0 L689.0 268.0 L687.6 268.0 L686.2 268.1 L684.8 268.1 L683.5 268.1 L682.1 268.1 L680.7 268.1 L679.4 268.1 L678.1 268.2 L676.8 268.2 L675.4 268.2 L674.1 268.2 L672.9 268.2 L671.6 268.3 L670.3 268.3 L669.1 268.3 L667.8 268.3 L666.6 268.3 L665.4 268.4 L664.2 268.4 L663.0 268.4 L661.8 268.4 L660.6 268.4 L659.4 268.5 L658.2 268.5 L657.1 268.5 L655.9 268.5 L654.7 268.6 L653.5 268.6 L652.4 268.6 L651.2 268.6 L650.1 268.6 L648.9 268.7 L647.8 268.7 L646.7 268.7 L645.5 268.7 L644.4 268.8 L643.2 268.8 L642.1 268.8 L640.9 268.8 L639.7 268.8 L638.6 268.9 L637.4 268.9 L636.2 268.9 L635.1 268.9 L633.9 268.9 L632.7 269.0 L631.5 269.0 L630.3 269.0 L629.1 269.0 L627.9 269.1 L626.7 269.1 L625.5 269.1 L624.3 269.1 L623.0 269.1 L621.8 269.2 L620.5 269.2 L619.3 269.2 L618.0 269.2 L616.7 269.2 L615.4 269.3 L614.1 269.3 L612.8 269.3 L611.5 269.3 L610.2 269.3 L608.8 269.3 L607.5 269.4 L606.2 269.4 L604.8 269.4 L603.4 269.4 L602.1 269.4 L600.7 269.4 L599.3 269.5 L597.9 269.5 L596.5 269.5 L595.0 269.5 L593.6 269.5 L592.2 269.5 L590.7 269.6 L589.2 269.6 L587.7 269.6 L586.2 269.6 L584.7 269.6 L583.1 269.6 L581.6 269.6 L580.0 269.6 L578.4 269.6 L576.8 269.6 L575.3 269.6 L573.6 269.6 L572.0 269.6 L570.4 269.6 L568.8 269.6 L567.2 269.6 L565.7 269.6 L564.2 269.6 L562.6 269.6 L561.1 269.6 L559.6 269.6 L558.1 269.6 L556.6 269.5 L555.1 269.5 L553.6 269.5 L552.2 269.5 L550.7 269.5 L549.2 269.5 L547.8 269.5 L546.3 269.5 L544.9 269.4 L543.5 269.4 L542.0 269.4 L540.6 269.4 L539.2 269.4 L537.7 269.4 L536.3 269.4 L534.9 269.3 L533.4 269.3 L532.0 269.3 L530.6 269.3 L529.1 269.3 L527.7 269.3 L526.3 269.3 L524.9 269.2 L523.4 269.2 L522.0 269.2 L520.6 269.2 L519.2 269.2 L517.7 269.2 L516.3 269.1 L514.9 269.1 L513.4 269.1 L512.0 269.1 L510.5 269.1 L509.1 269.1 L507.6 269.1 L506.2 269.1 L504.7 269.0 L503.2 269.0 L501.8 269.0 L500.3 269.0 L498.8 269.0 L497.3 269.0 L495.8 269.0 L494.4 269.0 L492.9 268.9 L491.4 268.9 L489.9 268.9 L488.3 268.9 L486.8 268.9 L485.3 268.9 L483.8 268.9 L482.2 268.9 L480.7 268.9 L479.1 268.9 L477.5 268.9 L476.0 268.8 L474.4 268.8 L472.8 268.8 L471.3 268.8 L469.7 268.8 L468.1 268.8 L466.5 268.8 L465.0 268.8 L463.4 268.8 L461.8 268.8 L460.2 268.8 L458.6 268.8 L457.0 268.8 L455.4 268.8 L453.8 268.8 L452.2 268.8 L450.6 268.8 L449.0 268.8 L447.4 268.8 L445.8 268.8 L444.2 268.8 L442.6 268.8 L441.0 268.8 L439.4 268.8 L437.8 268.8 L436.2 268.8 L434.6 268.8 L433.0 268.8 L431.4 268.8 L429.8 268.8 L428.3 268.8 L426.7 268.8 L425.1 268.8 L423.5 268.8 L421.9 268.8 L420.3 268.8 L418.7 268.8 L417.1 268.8 L415.5 268.8 L414.0 268.8 L412.4 268.8 L410.8 268.8 L409.2 268.9 L407.6 268.9 L406.0 268.9 L404.5 268.9 L402.9 268.9 L401.3 268.9 L399.7 268.9 L398.1 268.9 L396.6 268.9 L395.0 268.9 L393.4 268.9 L391.9 268.9 L390.3 268.9 L388.7 268.9 L387.1 268.9 L385.6 268.9 L384.0 268.9 L382.5 269.0 L380.9 269.0 L379.4 269.0 L377.8 269.0 L376.3 269.0 L374.7 269.0 L373.2 269.0 L371.6 269.0 L370.1 269.0 L368.6 269.0 L367.1 269.0 L365.6 269.1 L364.1 269.1 L362.6 269.1 L361.1 269.1 L359.6 269.1 L358.1 269.1 L356.6 269.1 L355.1 269.1 L353.7 269.1 L352.2 269.2 L350.7 269.2 L349.3 269.2 L347.8 269.2 L346.4 269.2 L344.9 269.2 L344.6 269.2Z"/>
<path d="M344.6 268.0 L345.2 266.7 L345.7 266.6 L346.1 266.6 L346.4 266.6 L346.7 266.6 L346.9 266.6 L347.1 266.6 L347.2 266.5 L347.4 266.5 L347.5 266.5 L347.6 266.5 L347.8 266.5 L347.9 266.5 L348.1 266.4 L348.2 266.4 L348.4 266.4 L348.6 266.4 L348.8 266.4 L349.1 266.4 L349.4 266.4 L349.7 266.3 L350.0 266.3 L350.3 266.3 L350.7 266.3 L351.1 266.3 L351.5 266.3 L352.0 266.2 L352.4 266.2 L352.9 266.2 L353.4 266.2 L354.0 266.2 L354.6 266.2 L355.3 266.2 L356.0 266.1 L356.7 266.1 L357.5 266.1 L358.3 266.1 L359.2 266.1 L360.2 266.1 L361.2 266.1 L362.3 266.0 L363.4 266.0 L364.6 266.0 L365.8 266.0 L367.0 266.0 L368.2 266.0 L369.4 266.0 L370.7 266.0 L372.0 266.0 L373.4 266.0 L374.8 265.9 L376.3 265.9 L377.7 265.9 L379.1 265.9 L380.6 265.9 L382.0 265.9 L383.5 265.9 L385.0 265.9 L386.5 265.9 L388.1 265.9 L389.6 265.9 L391.2 265.9 L392.7 265.9 L394.2 265.9 L395.8 265.9 L397.4 265.9 L398.9 265.9 L400.5 265.9 L402.1 265.9 L403.7 265.9 L405.3 265.9 L406.8 265.8 L408.4 265.8 L410.0 265.8 L411.6 265.8 L413.2 265.8 L414.7 265.8 L416.3 265.8 L417.9 265.8 L419.5 265.8 L421.1 265.8 L422.7 265.8 L424.3 265.8 L425.8 265.8 L427.4 265.8 L429.0 265.8 L430.6 265.8 L432.2 265.8 L433.8 265.8 L435.4 265.8 L437.0 265.8 L438.6 265.8 L440.2 265.8 L441.8 265.8 L443.3 265.8 L444.9 265.8 L446.5 265.8 L448.1 265.8 L449.7 265.8 L451.3 265.8 L452.9 265.8 L454.5 265.8 L456.1 265.8 L457.7 265.8 L459.3 265.8 L460.8 265.8 L462.4 265.8 L464.0 265.8 L465.6 265.8 L467.2 265.8 L468.8 265.8 L470.4 265.8 L472.0 265.8 L473.6 265.8 L475.2 265.8 L476.8 265.8 L478.4 265.8 L479.9 265.8 L481.5 265.8 L483.1 265.8 L484.7 265.8 L486.2 265.8 L487.8 265.7 L489.4 265.7 L490.9 265.7 L492.5 265.7 L494.0 265.7 L495.6 265.7 L497.1 265.7 L498.7 265.7 L500.3 265.7 L501.8 265.7 L503.4 265.7 L504.9 265.7 L506.5 265.7 L508.0 265.7 L509.5 265.7 L511.0 265.7 L512.6 265.7 L514.1 265.7 L515.6 265.7 L517.1 265.7 L518.6 265.7 L520.1 265.7 L521.5 265.7 L523.0 265.6 L524.5 265.6 L526.0 265.6 L527.5 265.6 L528.9 265.6 L530.4 265.6 L531.9 265.6 L533.3 265.6 L534.8 265.6 L536.2 265.6 L537.7 265.6 L539.1 265.6 L540.5 265.6 L542.0 265.6 L543.4 265.6 L544.8 265.5 L546.2 265.5 L547.7 265.5 L549.1 265.5 L550.5 265.5 L551.9 265.5 L553.3 265.5 L554.7 265.5 L556.1 265.5 L557.6 265.5 L559.0 265.5 L560.4 265.5 L561.8 265.5 L563.2 265.4 L564.5 265.4 L565.9 265.4 L567.3 265.4 L568.7 265.4 L570.1 265.4 L571.5 265.4 L572.9 265.4 L574.3 265.4 L575.7 265.4 L577.1 265.4 L578.5 265.4 L579.9 265.4 L581.3 265.3 L582.7 265.3 L584.1 265.3 L585.5 265.3 L586.9 265.3 L588.3 265.3 L589.8 265.3 L591.2 265.3 L592.6 265.3 L594.1 265.3 L595.5 265.3 L597.0 265.3 L598.4 265.3 L599.9 265.3 L601.4 265.2 L602.9 265.2 L604.4 265.2 L605.9 265.2 L607.4 265.2 L609.0 265.2 L610.5 265.2 L612.1 265.2 L613.7 265.2 L615.2 265.2 L616.8 265.2 L618.4 265.2 L620.0 265.2 L621.6 265.2 L623.2 265.2 L624.8 265.2 L626.4 265.2 L628.0 265.2 L629.6 265.2 L631.2 265.2 L632.8 265.2 L634.4 265.2 L635.9 265.2 L637.5 265.2 L639.1 265.2 L640.6 265.2 L642.2 265.2 L643.7 265.2 L645.2 265.2 L646.7 265.2 L648.2 265.2 L649.7 265.3 L651.2 265.3 L652.7 265.3 L654.2 265.3 L655.7 265.3 L657.1 265.3 L658.6 265.3 L660.1 265.3 L661.5 265.3 L663.0 265.3 L664.4 265.3 L665.8 265.3 L667.3 265.3 L668.7 265.3 L670.1 265.3 L671.6 265.4 L673.0 265.4 L674.4 265.4 L675.9 265.4 L677.3 265.4 L678.8 265.4 L680.2 265.4 L681.7 265.4 L683.1 265.4 L684.6 265.4 L686.1 265.4 L687.5 265.4 L689.0 265.4 L690.4 265.4 L691.9 265.5 L693.4 265.5 L694.8 265.5 L696.3 265.5 L697.8 265.5 L699.3 265.5 L700.8 265.5 L702.3 265.5 L703.8 265.5 L705.3 265.5 L706.9 265.5 L708.4 265.5 L709.9 265.5 L711.5 265.5 L713.0 265.5 L714.6 265.5 L716.1 265.5 L717.7 265.5 L719.2 265.5 L720.8 265.5 L722.4 265.5 L723.9 265.5 L725.5 265.6 L727.1 265.6 L728.7 265.6 L730.2 265.6 L731.8 265.6 L733.4 265.6 L735.0 265.6 L736.6 265.6 L738.2 265.6 L739.8 265.6 L741.4 265.6 L743.0 265.6 L744.6 265.6 L746.2 265.6 L747.8 265.6 L749.4 265.6 L751.0 265.6 L751.3 265.6 L751.3 266.7 L750.4 266.7 L749.6 266.7 L748.8 266.7 L748.1 266.8 L747.4 266.8 L746.9 266.8 L746.3 266.8 L745.8 266.8 L745.4 266.8 L744.9 266.8 L744.4 266.9 L743.9 266.9 L743.3 266.9 L742.7 266.9 L742.1 266.9 L741.4 266.9 L740.6 267.0 L739.8 267.0 L739.0 267.0 L738.2 267.0 L737.3 267.0 L736.4 267.0 L735.4 267.0 L734.5 267.0 L733.5 267.1 L732.5 267.1 L731.5 267.1 L730.4 267.1 L729.4 267.1 L728.3 267.1 L727.1 267.1 L725.9 267.1 L724.7 267.2 L723.4 267.2 L722.1 267.2 L720.8 267.2 L719.5 267.2 L718.2 267.2 L716.8 267.2 L715.5 267.2 L714.2 267.2 L712.9 267.2 L711.5 267.2 L710.2 267.3 L708.8 267.3 L707.4 267.3 L706.1 267.3 L704.7 267.3 L703.3 267.3 L701.9 267.3 L700.5 267.3 L699.1 267.3 L697.7 267.3 L696.2 267.3 L694.8 267.3 L693.3 267.3 L691.9 267.4 L690.5 267.4 L689.0 267.4 L687.6 267.4 L686.2 267.4 L684.8 267.4 L683.5 267.4 L682.1 267.4 L680.7 267.4 L679.4 267.4 L678.1 267.4 L676.8 267.4 L675.4 267.5 L674.1 267.5 L672.9 267.5 L671.6 267.5 L670.3 267.5 L669.1 267.5 L667.8 267.5 L666.6 267.5 L665.4 267.5 L664.2 267.5 L663.0 267.5 L661.8 267.6 L660.6 267.6 L659.4 267.6 L658.2 267.6 L657.1 267.6 L655.9 267.6 L654.7 267.6 L653.5 267.6 L652.4 267.6 L651.2 267.7 L650.1 267.7 L648.9 267.7 L647.8 267.7 L646.7 267.7 L645.5 267.7 L644.4 267.7 L643.2 267.7 L642.1 267.7 L640.9 267.8 L639.7 267.8 L638.6 267.8 L637.4 267.8 L636.2 267.8 L635.1 267.8 L633.9 267.8 L632.7 267.8 L631.5 267.8 L630.3 267.9 L629.1 267.9 L627.9 267.9 L626.7 267.9 L625.5 267.9 L624.3 267.9 L623.0 267.9 L621.8 267.9 L620.5 267.9 L619.3 267.9 L618.0 268.0 L616.7 268.0 L615.4 268.0 L614.1 268.0 L612.8 268.0 L611.5 268.0 L610.2 268.0 L608.8 268.0 L607.5 268.0 L606.2 268.0 L604.8 268.0 L603.4 268.1 L602.1 268.1 L600.7 268.1 L599.3 268.1 L597.9 268.1 L596.5 268.1 L595.0 268.1 L593.6 268.1 L592.2 268.1 L590.7 268.1 L589.2 268.1 L587.7 268.1 L586.2 268.1 L584.7 268.1 L583.1 268.2 L581.6 268.2 L580.0 268.2 L578.4 268.2 L576.8 268.2 L575.3 268.2 L573.6 268.2 L572.0 268.2 L570.4 268.2 L568.8 268.2 L567.2 268.2 L565.7 268.2 L564.2 268.1 L562.6 268.1 L561.1 268.1 L559.6 268.1 L558.1 268.1 L556.6 268.1 L555.1 268.1 L553.6 268.1 L552.2 268.1 L550.7 268.1 L549.2 268.1 L547.8 268.1 L546.3 268.1 L544.9 268.1 L543.5 268.1 L542.0 268.1 L540.6 268.0 L539.2 268.0 L537.7 268.0 L536.3 268.0 L534.9 268.0 L533.4 268.0 L532.0 268.0 L530.6 268.0 L529.1 268.0 L527.7 268.0 L526.3 268.0 L524.9 268.0 L523.4 268.0 L522.0 268.0 L520.6 267.9 L519.2 267.9 L517.7 267.9 L516.3 267.9 L514.9 267.9 L513.4 267.9 L512.0 267.9 L510.5 267.9 L509.1 267.9 L507.6 267.9 L506.2 267.9 L504.7 267.9 L503.2 267.9 L501.8 267.9 L500.3 267.9 L498.8 267.8 L497.3 267.8 L495.8 267.8 L494.4 267.8 L492.9 267.8 L491.4 267.8 L489.9 267.8 L488.3 267.8 L486.8 267.8 L485.3 267.8 L483.8 267.8 L482.2 267.8 L480.7 267.8 L479.1 267.8 L477.5 267.8 L476.0 267.8 L474.4 267.8 L472.8 267.8 L471.3 267.8 L469.7 267.8 L468.1 267.8 L466.5 267.8 L465.0 267.8 L463.4 267.7 L461.8 267.7 L460.2 267.7 L458.6 267.7 L457.0 267.7 L455.4 267.7 L453.8 267.7 L452.2 267.7 L450.6 267.7 L449.0 267.7 L447.4 267.7 L445.8 267.7 L444.2 267.7 L442.6 267.7 L441.0 267.7 L439.4 267.7 L437.8 267.7 L436.2 267.7 L434.6 267.7 L433.0 267.7 L431.4 267.8 L429.8 267.8 L428.3 267.8 L426.7 267.8 L425.1 267.8 L423.5 267.8 L421.9 267.8 L420.3 267.8 L418.7 267.8 L417.1 267.8 L415.5 267.8 L414.0 267.8 L412.4 267.8 L410.8 267.8 L409.2 267.8 L407.6 267.8 L406.0 267.8 L404.5 267.8 L402.9 267.8 L401.3 267.8 L399.7 267.8 L398.1 267.8 L396.6 267.8 L395.0 267.8 L393.4 267.8 L391.9 267.8 L390.3 267.8 L388.7 267.8 L387.1 267.8 L385.6 267.8 L384.0 267.8 L382.5 267.8 L380.9 267.8 L379.4 267.8 L377.8 267.8 L376.3 267.8 L374.7 267.8 L373.2 267.9 L371.6 267.9 L370.1 267.9 L368.6 267.9 L367.1 267.9 L365.6 267.9 L364.1 267.9 L362.6 267.9 L361.1 267.9 L359.6 267.9 L358.1 267.9 L356.6 267.9 L355.1 267.9 L353.7 267.9 L352.2 267.9 L350.7 267.9 L349.3 267.9 L347.8 267.9 L346.4 268.0 L344.9 268.0 L344.6 268.0Z"/>
<path d="M344.6 267.2 L345.2 266.7 L345.7 266.7 L346.1 266.7 L346.4 266.7 L346.7 266.7 L346.9 266.7 L347.1 266.6 L347.2 266.6 L347.4 266.6 L347.5 266.6 L347.6 266.6 L347.8 266.6 L347.9 266.6 L348.1 266.6 L348.2 266.6 L348.4 266.6 L348.6 266.6 L348.8 266.6 L349.1 266.6 L349.4 266.6 L349.7 266.6 L350.0 266.5 L350.3 266.5 L350.7 266.5 L351.1 266.5 L351.5 266.5 L352.0 266.5 L352.4 266.5 L352.9 266.5 L353.4 266.5 L354.0 266.5 L354.6 266.5 L355.3 266.5 L356.0 266.5 L356.7 266.5 L357.5 266.5 L358.3 266.5 L359.2 266.5 L360.2 266.4 L361.2 266.4 L362.3 266.4 L363.4 266.4 L364.6 266.4 L365.8 266.4 L367.0 266.4 L368.2 266.4 L369.4 266.4 L370.7 266.4 L372.0 266.4 L373.4 266.4 L374.8 266.4 L376.3 266.4 L377.7 266.4 L379.1 266.4 L380.6 266.4 L382.0 266.4 L383.5 266.4 L385.0 266.4 L386.5 266.4 L388.1 266.4 L389.6 266.4 L391.2 266.4 L392.7 266.4 L394.2 266.4 L395.8 266.4 L397.4 266.4 L398.9 266.4 L400.5 266.4 L402.1 266.4 L403.7 266.4 L405.3 266.4 L406.8 266.4 L408.4 266.4 L410.0 266.4 L411.6 266.4 L413.2 266.4 L414.7 266.4 L416.3 266.4 L417.9 266.4 L419.5 266.4 L421.1 266.4 L422.7 266.4 L424.3 266.3 L425.8 266.3 L427.4 266.3 L429.0 266.3 L430.6 266.3 L432.2 266.3 L433.8 266.3 L435.4 266.3 L437.0 266.3 L438.6 266.3 L440.2 266.3 L441.8 266.3 L443.3 266.3 L444.9 266.3 L446.5 266.3 L448.1 266.3 L449.7 266.3 L451.3 266.3 L452.9 266.3 L454.5 266.3 L456.1 266.3 L457.7 266.3 L459.3 266.3 L460.8 266.3 L462.4 266.3 L464.0 266.3 L465.6 266.3 L467.2 266.3 L468.8 266.3 L470.4 266.3 L472.0 266.3 L473.6 266.3 L475.2 266.3 L476.8 266.3 L478.4 266.3 L479.9 266.3 L481.5 266.3 L483.1 266.3 L484.7 266.3 L486.2 266.3 L487.8 266.3 L489.4 266.3 L490.9 266.3 L492.5 266.3 L494.0 266.3 L495.6 266.3 L497.1 266.3 L498.7 266.3 L500.3 266.3 L501.8 266.3 L503.4 266.3 L504.9 266.3 L506.5 266.3 L508.0 266.3 L509.5 266.3 L511.0 266.3 L512.6 266.3 L514.1 266.3 L515.6 266.3 L517.1 266.3 L518.6 266.3 L520.1 266.3 L521.5 266.3 L523.0 266.3 L524.5 266.3 L526.0 266.3 L527.5 266.3 L528.9 266.3 L530.4 266.3 L531.9 266.3 L533.3 266.3 L534.8 266.3 L536.2 266.3 L537.7 266.3 L539.1 266.2 L540.5 266.2 L542.0 266.2 L543.4 266.2 L544.8 266.2 L546.2 266.2 L547.7 266.2 L549.1 266.2 L550.5 266.2 L551.9 266.2 L553.3 266.2 L554.7 266.2 L556.1 266.2 L557.6 266.2 L559.0 266.2 L560.4 266.2 L561.8 266.2 L563.2 266.2 L564.5 266.2 L565.9 266.2 L567.3 266.2 L568.7 266.2 L570.1 266.2 L571.5 266.2 L572.9 266.2 L574.3 266.2 L575.7 266.2 L577.1 266.2 L578.5 266.2 L579.9 266.2 L581.3 266.2 L582.7 266.2 L584.1 266.2 L585.5 266.1 L586.9 266.1 L588.3 266.1 L589.8 266.1 L591.2 266.1 L592.6 266.1 L594.1 266.1 L595.5 266.1 L597.0 266.1 L598.4 266.1 L599.9 266.1 L601.4 266.1 L602.9 266.1 L604.4 266.1 L605.9 266.1 L607.4 266.1 L609.0 266.1 L610.5 266.1 L612.1 266.1 L613.7 266.1 L615.2 266.1 L616.8 266.1 L618.4 266.1 L620.0 266.1 L621.6 266.1 L623.2 266.1 L624.8 266.1 L626.4 266.1 L628.0 266.1 L629.6 266.1 L631.2 266.1 L632.8 266.1 L634.4 266.1 L635.9 266.1 L637.5 266.1 L639.1 266.1 L640.6 266.1 L642.2 266.1 L643.7 266.1 L645.2 266.1 L646.7 266.1 L648.2 266.1 L649.7 266.1 L651.2 266.1 L652.7 266.1 L654.2 266.1 L655.7 266.1 L657.1 266.1 L658.6 266.1 L660.1 266.1 L661.5 266.1 L663.0 266.1 L664.4 266.1 L665.8 266.2 L667.3 266.2 L668.7 266.2 L670.1 266.2 L671.6 266.2 L673.0 266.2 L674.4 266.2 L675.9 266.2 L677.3 266.2 L678.8 266.2 L680.2 266.2 L681.7 266.2 L683.1 266.2 L684.6 266.2 L686.1 266.2 L687.5 266.2 L689.0 266.2 L690.4 266.2 L691.9 266.2 L693.4 266.2 L694.8 266.2 L696.3 266.2 L697.8 266.2 L699.3 266.2 L700.8 266.2 L702.3 266.2 L703.8 266.2 L705.3 266.2 L706.9 266.2 L708.4 266.2 L709.9 266.2 L711.5 266.2 L713.0 266.2 L714.6 266.2 L716.1 266.2 L717.7 266.2 L719.2 266.2 L720.8 266.2 L722.4 266.2 L723.9 266.2 L725.5 266.2 L727.1 266.2 L728.7 266.2 L730.2 266.2 L731.8 266.2 L733.4 266.2 L735.0 266.2 L736.6 266.2 L738.2 266.2 L739.8 266.2 L741.4 266.2 L743.0 266.2 L744.6 266.2 L746.2 266.2 L747.8 266.2 L749.4 266.2 L751.0 266.3 L751.3 266.3 L751.3 266.7 L750.4 266.7 L749.6 266.7 L748.8 266.7 L748.1 266.7 L747.4 266.7 L746.9 266.7 L746.3 266.7 L745.8 266.7 L745.4 266.8 L744.9 266.8 L744.4 266.8 L743.9 266.8 L743.3 266.8 L742.7 266.8 L742.1 266.8 L741.4 266.8 L740.6 266.8 L739.8 266.8 L739.0 266.8 L738.2 266.8 L737.3 266.8 L736.4 266.8 L735.4 266.8 L734.5 266.8 L733.5 266.8 L732.5 266.8 L731.5 266.9 L730.4 266.9 L729.4 266.9 L728.3 266.9 L727.1 266.9 L725.9 266.9 L724.7 266.9 L723.4 266.9 L722.1 266.9 L720.8 266.9 L719.5 266.9 L718.2 266.9 L716.8 266.9 L715.5 266.9 L714.2 266.9 L712.9 266.9 L711.5 266.9 L710.2 266.9 L708.8 266.9 L707.4 266.9 L706.1 266.9 L704.7 266.9 L703.3 266.9 L701.9 266.9 L700.5 266.9 L699.1 266.9 L697.7 266.9 L696.2 267.0 L694.8 267.0 L693.3 267.0 L691.9 267.0 L690.5 267.0 L689.0 267.0 L687.6 267.0 L686.2 267.0 L684.8 267.0 L683.5 267.0 L682.1 267.0 L680.7 267.0 L679.4 267.0 L678.1 267.0 L676.8 267.0 L675.4 267.0 L674.1 267.0 L672.9 267.0 L671.6 267.0 L670.3 267.0 L669.1 267.0 L667.8 267.0 L666.6 267.0 L665.4 267.0 L664.2 267.0 L663.0 267.0 L661.8 267.0 L660.6 267.0 L659.4 267.1 L658.2 267.1 L657.1 267.1 L655.9 267.1 L654.7 267.1 L653.5 267.1 L652.4 267.1 L651.2 267.1 L650.1 267.1 L648.9 267.1 L647.8 267.1 L646.7 267.1 L645.5 267.1 L644.4 267.1 L643.2 267.1 L642.1 267.1 L640.9 267.1 L639.7 267.1 L638.6 267.1 L637.4 267.1 L636.2 267.1 L635.1 267.1 L633.9 267.1 L632.7 267.2 L631.5 267.2 L630.3 267.2 L629.1 267.2 L627.9 267.2 L626.7 267.2 L625.5 267.2 L624.3 267.2 L623.0 267.2 L621.8 267.2 L620.5 267.2 L619.3 267.2 L618.0 267.2 L616.7 267.2 L615.4 267.2 L614.1 267.2 L612.8 267.2 L611.5 267.2 L610.2 267.2 L608.8 267.2 L607.5 267.2 L606.2 267.2 L604.8 267.2 L603.4 267.2 L602.1 267.2 L600.7 267.2 L599.3 267.3 L597.9 267.3 L596.5 267.3 L595.0 267.3 L593.6 267.3 L592.2 267.3 L590.7 267.3 L589.2 267.3 L587.7 267.3 L586.2 267.3 L584.7 267.3 L583.1 267.3 L581.6 267.3 L580.0 267.3 L578.4 267.3 L576.8 267.3 L575.3 267.3 L573.6 267.3 L572.0 267.3 L570.4 267.3 L568.8 267.3 L567.2 267.3 L565.7 267.3 L564.2 267.3 L562.6 267.3 L561.1 267.3 L559.6 267.3 L558.1 267.3 L556.6 267.3 L555.1 267.3 L553.6 267.3 L552.2 267.3 L550.7 267.3 L549.2 267.3 L547.8 267.3 L546.3 267.3 L544.9 267.2 L543.5 267.2 L542.0 267.2 L540.6 267.2 L539.2 267.2 L537.7 267.2 L536.3 267.2 L534.9 267.2 L533.4 267.2 L532.0 267.2 L530.6 267.2 L529.1 267.2 L527.7 267.2 L526.3 267.2 L524.9 267.2 L523.4 267.2 L522.0 267.2 L520.6 267.2 L519.2 267.2 L517.7 267.2 L516.3 267.2 L514.9 267.2 L513.4 267.2 L512.0 267.2 L510.5 267.2 L509.1 267.2 L507.6 267.2 L506.2 267.2 L504.7 267.2 L503.2 267.2 L501.8 267.2 L500.3 267.2 L498.8 267.2 L497.3 267.2 L495.8 267.2 L494.4 267.2 L492.9 267.1 L491.4 267.1 L489.9 267.1 L488.3 267.1 L486.8 267.1 L485.3 267.1 L483.8 267.1 L482.2 267.1 L480.7 267.1 L479.1 267.1 L477.5 267.1 L476.0 267.1 L474.4 267.1 L472.8 267.1 L471.3 267.1 L469.7 267.1 L468.1 267.1 L466.5 267.1 L465.0 267.1 L463.4 267.1 L461.8 267.1 L460.2 267.1 L458.6 267.1 L457.0 267.1 L455.4 267.1 L453.8 267.1 L452.2 267.1 L450.6 267.1 L449.0 267.1 L447.4 267.1 L445.8 267.1 L444.2 267.1 L442.6 267.1 L441.0 267.1 L439.4 267.1 L437.8 267.1 L436.2 267.1 L434.6 267.1 L433.0 267.1 L431.4 267.1 L429.8 267.1 L428.3 267.1 L426.7 267.1 L425.1 267.1 L423.5 267.1 L421.9 267.1 L420.3 267.1 L418.7 267.1 L417.1 267.1 L415.5 267.1 L414.0 267.1 L412.4 267.1 L410.8 267.1 L409.2 267.1 L407.6 267.1 L406.0 267.1 L404.5 267.1 L402.9 267.1 L401.3 267.1 L399.7 267.1 L398.1 267.1 L396.6 267.1 L395.0 267.1 L393.4 267.1 L391.9 267.1 L390.3 267.1 L388.7 267.1 L387.1 267.1 L385.6 267.1 L384.0 267.1 L382.5 267.2 L380.9 267.2 L379.4 267.2 L377.8 267.2 L376.3 267.2 L374.7 267.2 L373.2 267.2 L371.6 267.2 L370.1 267.2 L368.6 267.2 L367.1 267.2 L365.6 267.2 L364.1 267.2 L362.6 267.2 L361.1 267.2 L359.6 267.2 L358.1 267.2 L356.6 267.2 L355.1 267.2 L353.7 267.2 L352.2 267.2 L350.7 267.2 L349.3 267.2 L347.8 267.2 L346.4 267.2 L344.9 267.2 L344.6 267.2Z"/>
</g>
<rect x="343" y="261.3" width="408.5" height="10.4" fill="#000"/>
<g stroke="#000" stroke-width="3.2" fill="none">
<path d="M345.2 262 V393.5 M751 154.5 V268"/>
</g>
<g stroke="#000" fill="none">
<path d="M455 163.4 L479.8 172.9 L455 184.3" stroke-width="3.2" stroke-linejoin="miter"/>
<path d="M623.8 113 V92 M517.9 399.3 V421" stroke-width="2.5"/>
</g>
<path d="M623.8 80.5 L618.2 94.8 L623.8 93.4 L629.4 94.8Z M517.9 433 L512.4 418.8 L517.9 420.2 L523.4 418.8Z" fill="#000"/>
<g stroke="#111" stroke-width="2" fill="none">
<path d="M292.0 656.1 V980.5 M291.0 979.5 H695"/>
<path d="M285.0 979.5 H292.0 M288.0 963.4 H292.0 M285.0 947.3 H292.0 M288.0 931.1 H292.0 M285.0 915.0 H292.0 M288.0 898.9 H292.0 M285.0 882.8 H292.0 M288.0 866.7 H292.0 M285.0 850.5 H292.0 M288.0 834.4 H292.0 M285.0 818.3 H292.0 M288.0 802.2 H292.0 M285.0 786.1 H292.0 M288.0 769.9 H292.0 M285.0 753.8 H292.0 M288.0 737.7 H292.0 M285.0 721.6 H292.0 M288.0 705.5 H292.0 M285.0 689.3 H292.0 M288.0 673.2 H292.0 M285.0 657.1 H292.0 M293.8 979.5 V986.5 M333.6 979.5 V983.5 M373.3 979.5 V986.5 M413.1 979.5 V983.5 M452.8 979.5 V986.5 M492.6 979.5 V983.5 M532.3 979.5 V986.5 M572.0 979.5 V983.5 M611.8 979.5 V986.5 M651.5 979.5 V983.5 M691.3 979.5 V986.5 " stroke-width="1.7"/>
</g>
<g font-family="'Liberation Sans', Arial, sans-serif" font-weight="bold" font-size="19" fill="#000" stroke="#000" stroke-width="0.3">
<text x="282" y="984.1" text-anchor="end">-100</text>
<text x="282" y="951.9" text-anchor="end">-80</text>
<text x="282" y="919.6" text-anchor="end">-60</text>
<text x="282" y="887.4" text-anchor="end">-40</text>
<text x="282" y="855.1" text-anchor="end">-20</text>
<text x="282" y="822.9" text-anchor="end">0</text>
<text x="282" y="790.7" text-anchor="end">20</text>
<text x="282" y="758.4" text-anchor="end">40</text>
<text x="282" y="726.2" text-anchor="end">60</text>
<text x="282" y="693.9" text-anchor="end">80</text>
<text x="282" y="661.7" text-anchor="end">100</text>
<text x="293.8" y="1005" text-anchor="middle">0</text>
<text x="373.3" y="1005" text-anchor="middle">200</text>
<text x="452.8" y="1005" text-anchor="middle">400</text>
<text x="532.3" y="1005" text-anchor="middle">600</text>
<text x="611.8" y="1005" text-anchor="middle">800</text>
<text x="691.3" y="1005" text-anchor="middle">1000</text>
<text x="493" y="1042" text-anchor="middle" font-size="19.3">Scan rate / mV s<tspan font-size="11" font-weight="normal" dy="-9">-1</tspan></text>
<text transform="translate(228.7,831.2) rotate(-90)" text-anchor="middle">Current / µA</text>
</g>
<g stroke="#000" stroke-width="2.9" fill="none">
<path d="M293.8 817.6 L317.7 807.7 L694.5 679.1"/>
<path d="M293.8 817.6 L317.7 813.7 L691.3 778.8"/>
<path d="M293.8 817.3 L317.7 813.9 L691.3 794.9"/>
<path d="M293.8 819.8 L317.7 824.2 L691.3 841.7"/>
<path d="M293.8 818.8 L317.7 822.2 L691.3 858.8"/>
<path d="M293.8 819.1 L317.7 829.1 L694.5 958.2"/>
</g>
<g fill="#000">
<path d="M297.8 810.6 L302.6 819.5 H293.0Z"/>
<path d="M301.8 808.3 L306.6 817.2 H296.9Z"/>
<path d="M313.7 803.5 L318.5 812.4 H308.9Z"/>
<path d="M333.6 795.3 L338.4 804.2 H328.8Z"/>
<path d="M373.3 780.3 L378.1 789.2 H368.5Z"/>
<path d="M492.6 740.6 L497.4 749.5 H487.8Z"/>
<path d="M611.8 701.6 L616.6 710.5 H607.0Z"/>
<path d="M691.3 677.1 L696.1 686.0 H686.5Z"/>
<path d="M297.8 812.4 L302.4 817.0 L297.8 821.6 L293.2 817.0Z"/>
<path d="M301.8 811.6 L306.4 816.2 L301.8 820.8 L297.1 816.2Z"/>
<path d="M313.7 809.8 L318.3 814.4 L313.7 819.0 L309.1 814.4Z"/>
<path d="M333.6 807.6 L338.2 812.2 L333.6 816.8 L328.9 812.2Z"/>
<path d="M373.3 803.5 L377.9 808.1 L373.3 812.7 L368.7 808.1Z"/>
<path d="M492.6 791.8 L497.2 796.4 L492.6 801.0 L487.9 796.4Z"/>
<path d="M611.8 781.0 L616.4 785.6 L611.8 790.2 L607.2 785.6Z"/>
<path d="M691.3 774.2 L695.9 778.8 L691.3 783.4 L686.7 778.8Z"/>
<rect x="294.3" y="814.0" width="7.0" height="7.0"/>
<rect x="298.2" y="813.3" width="7.0" height="7.0"/>
<rect x="310.2" y="812.2" width="7.0" height="7.0"/>
<rect x="330.1" y="810.6" width="7.0" height="7.0"/>
<rect x="369.8" y="807.7" width="7.0" height="7.0"/>
<rect x="489.1" y="800.5" width="7.0" height="7.0"/>
<rect x="608.3" y="794.6" width="7.0" height="7.0"/>
<rect x="687.8" y="791.4" width="7.0" height="7.0"/>
<circle cx="297.8" cy="819.1" r="3.8"/>
<circle cx="301.8" cy="819.8" r="3.8"/>
<circle cx="313.7" cy="821.2" r="3.8"/>
<circle cx="333.6" cy="823.1" r="3.8"/>
<circle cx="373.3" cy="826.4" r="3.8"/>
<circle cx="492.6" cy="831.2" r="3.8"/>
<circle cx="611.8" cy="838.0" r="3.8"/>
<circle cx="691.3" cy="841.7" r="3.8"/>
<path d="M293.2 819.6 L301.7 815.0 V824.2Z"/>
<path d="M297.1 820.4 L305.7 815.8 V825.0Z"/>
<path d="M309.1 822.3 L317.6 817.7 V826.9Z"/>
<path d="M328.9 824.7 L337.5 820.1 V829.3Z"/>
<path d="M368.7 828.8 L377.2 824.2 V833.4Z"/>
<path d="M487.9 839.1 L496.5 834.5 V843.7Z"/>
<path d="M607.2 851.7 L615.7 847.1 V856.3Z"/>
<path d="M686.7 858.8 L695.2 854.2 V863.4Z"/>
<path d="M297.8 826.0 L302.6 817.1 H293.0Z"/>
<path d="M301.8 828.3 L306.6 819.4 H296.9Z"/>
<path d="M313.7 832.8 L318.5 823.9 H308.9Z"/>
<path d="M333.6 841.6 L338.4 832.8 H328.8Z"/>
<path d="M373.3 858.2 L378.1 849.4 H368.5Z"/>
<path d="M492.6 899.7 L497.4 890.8 H487.8Z"/>
<path d="M611.8 936.1 L616.6 927.2 H607.0Z"/>
<path d="M691.3 957.2 L696.1 948.3 H686.5Z"/>
</g>
<g font-family="'Liberation Serif', 'Times New Roman', serif" font-weight="bold" font-size="24" fill="#111">
<text x="701.5" y="687.5">III</text>
<text x="701" y="774.5">II</text>
<text x="699" y="826.5">I / I'</text>
<text x="705" y="877.5">II'</text>
<text x="705" y="961.5">III'</text>
</g>
</svg>
</body></html>
